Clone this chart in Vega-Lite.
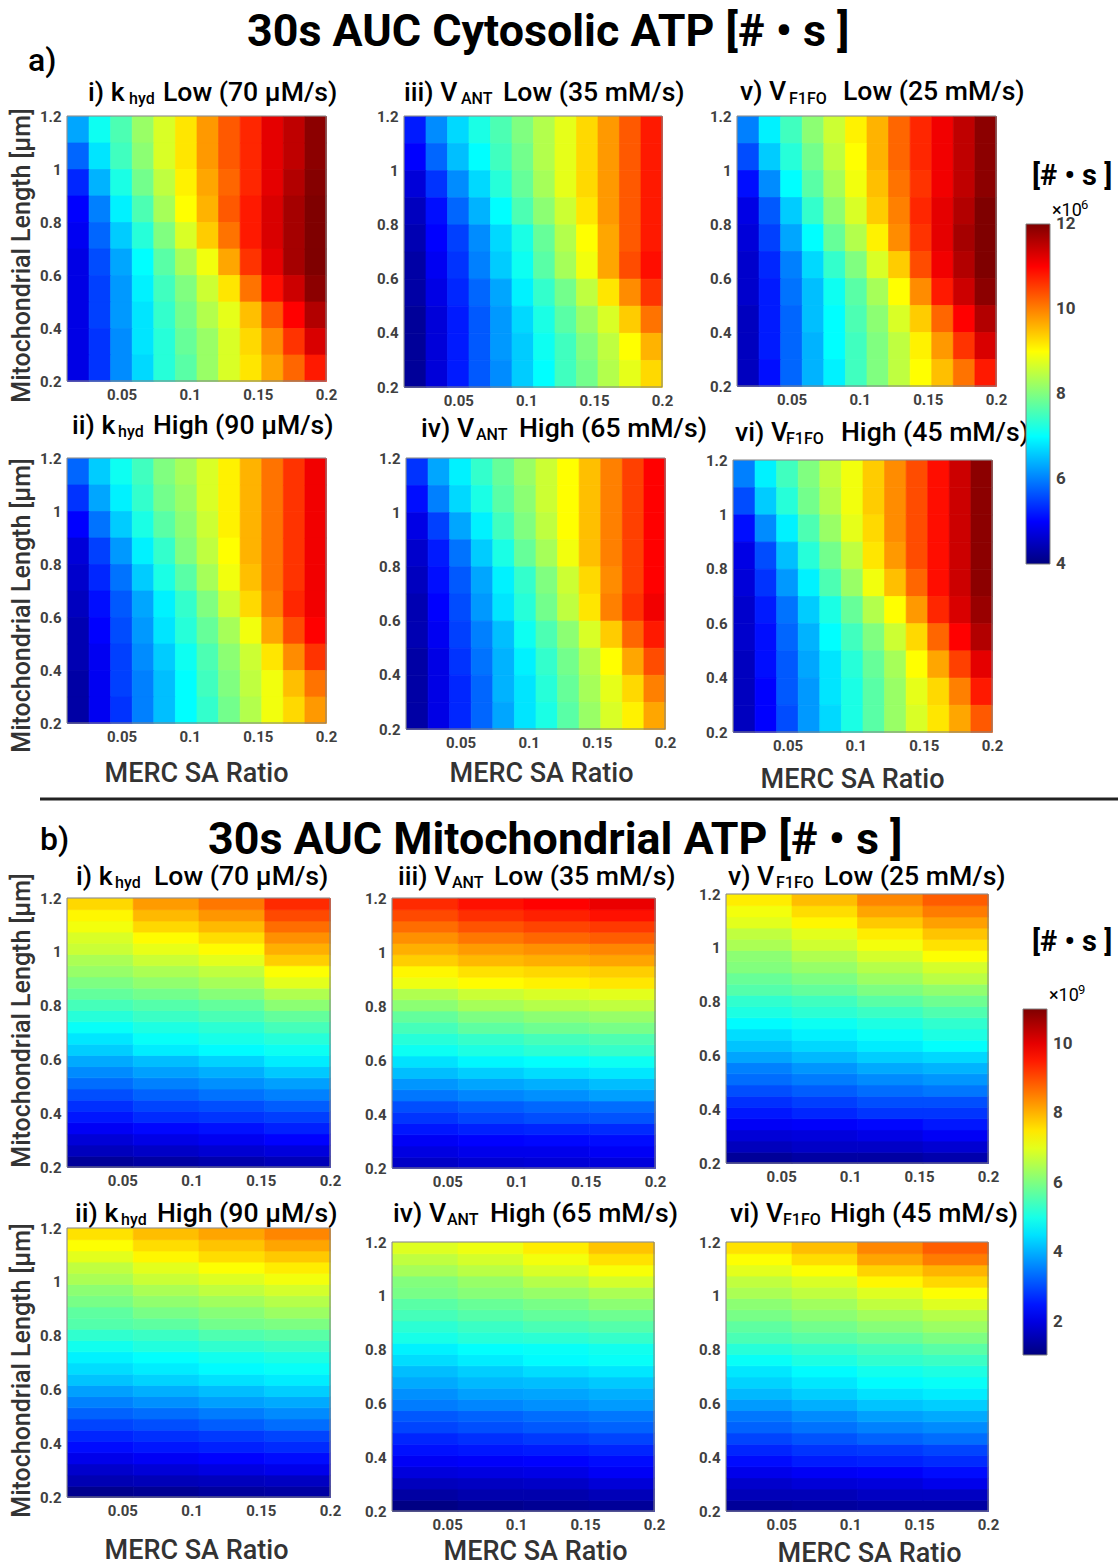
{"$schema":"https://vega.github.io/schema/vega-lite/v6.json","width":1118,"height":1568,"padding":0,"autosize":{"type":"fit","contains":"padding"},"background":"white",
"config":{"view":{"stroke":null},"axis":{"domain":false,"ticks":false,"grid":false,"labelFont":"Roboto","labelFontWeight":"bold","labelFontSize":15,"labelColor":"#404040","labelPadding":6,"titleFont":"Roboto","titleFontWeight":500,"titleFontSize":25,"titleColor":"#333333","format":"~g","labelOverlap":false,"labelFlush":false},
"style":{"t":{"font":"Roboto","fontWeight":500,"fontSize":26.6,"fill":"#333333","align":"left","baseline":"alphabetic"},"s":{"font":"Roboto","fontWeight":500,"fontSize":16,"fill":"#333333","align":"left","baseline":"alphabetic"},"h":{"font":"Roboto","fontWeight":"bold","fontSize":44.8,"fill":"#000000","align":"left","baseline":"alphabetic"},"u":{"font":"Roboto","fontWeight":"bold","fontSize":29,"fill":"#000000","align":"left","baseline":"alphabetic"},"l":{"font":"Roboto","fontWeight":500,"fontSize":32,"fill":"#222222","align":"left","baseline":"alphabetic"},"m":{"font":"Roboto","fontWeight":400,"fontSize":18,"fill":"#404040","align":"left","baseline":"alphabetic"},"n":{"font":"Roboto","fontWeight":400,"fontSize":13,"fill":"#404040","align":"left","baseline":"alphabetic"}}},
"datasets":{"one":[{}]},
"resolve":{"scale":{"x":"independent","y":"independent","color":"independent","stroke":"independent"}},
"layer":[
{"data":{"values":[
{"x":0.018,"y":1.15,"v":6.3},{"x":0.034,"y":1.15,"v":7.1},{"x":0.05,"y":1.15,"v":7.6},{"x":0.066,"y":1.15,"v":8.2},{"x":0.082,"y":1.15,"v":8.7},{"x":0.097,"y":1.15,"v":9.2},{"x":0.113,"y":1.15,"v":9.8},{"x":0.129,"y":1.15,"v":10.3},{"x":0.145,"y":1.15,"v":10.7},{"x":0.161,"y":1.15,"v":11.2},{"x":0.176,"y":1.15,"v":11.5},{"x":0.192,"y":1.15,"v":11.9},
{"x":0.018,"y":1.05,"v":5.8},{"x":0.034,"y":1.05,"v":6.8},{"x":0.05,"y":1.05,"v":7.5},{"x":0.066,"y":1.05,"v":8.1},{"x":0.082,"y":1.05,"v":8.7},{"x":0.097,"y":1.05,"v":9.2},{"x":0.113,"y":1.05,"v":9.8},{"x":0.129,"y":1.05,"v":10.3},{"x":0.145,"y":1.05,"v":10.7},{"x":0.161,"y":1.05,"v":11.2},{"x":0.176,"y":1.05,"v":11.5},{"x":0.192,"y":1.05,"v":11.9},
{"x":0.018,"y":0.95,"v":5.3},{"x":0.034,"y":0.95,"v":6.4},{"x":0.05,"y":0.95,"v":7.2},{"x":0.066,"y":0.95,"v":7.9},{"x":0.082,"y":0.95,"v":8.5},{"x":0.097,"y":0.95,"v":9.1},{"x":0.113,"y":0.95,"v":9.7},{"x":0.129,"y":0.95,"v":10.2},{"x":0.145,"y":0.95,"v":10.7},{"x":0.161,"y":0.95,"v":11.2},{"x":0.176,"y":0.95,"v":11.6},{"x":0.192,"y":0.95,"v":11.95},
{"x":0.018,"y":0.85,"v":5},{"x":0.034,"y":0.85,"v":6},{"x":0.05,"y":0.85,"v":6.9},{"x":0.066,"y":0.85,"v":7.6},{"x":0.082,"y":0.85,"v":8.3},{"x":0.097,"y":0.85,"v":9},{"x":0.113,"y":0.85,"v":9.6},{"x":0.129,"y":0.85,"v":10.3},{"x":0.145,"y":0.85,"v":10.8},{"x":0.161,"y":0.85,"v":11.3},{"x":0.176,"y":0.85,"v":11.7},{"x":0.192,"y":0.85,"v":12},
{"x":0.018,"y":0.75,"v":4.9},{"x":0.034,"y":0.75,"v":5.8},{"x":0.05,"y":0.75,"v":6.6},{"x":0.066,"y":0.75,"v":7.3},{"x":0.082,"y":0.75,"v":8},{"x":0.097,"y":0.75,"v":8.7},{"x":0.113,"y":0.75,"v":9.4},{"x":0.129,"y":0.75,"v":10.1},{"x":0.145,"y":0.75,"v":10.8},{"x":0.161,"y":0.75,"v":11.3},{"x":0.176,"y":0.75,"v":11.7},{"x":0.192,"y":0.75,"v":12},
{"x":0.018,"y":0.65,"v":4.8},{"x":0.034,"y":0.65,"v":5.6},{"x":0.05,"y":0.65,"v":6.3},{"x":0.066,"y":0.65,"v":7},{"x":0.082,"y":0.65,"v":7.7},{"x":0.097,"y":0.65,"v":8.3},{"x":0.113,"y":0.65,"v":8.9},{"x":0.129,"y":0.65,"v":9.7},{"x":0.145,"y":0.65,"v":10.6},{"x":0.161,"y":0.65,"v":11.2},{"x":0.176,"y":0.65,"v":11.7},{"x":0.192,"y":0.65,"v":12},
{"x":0.018,"y":0.55,"v":4.8},{"x":0.034,"y":0.55,"v":5.5},{"x":0.05,"y":0.55,"v":6.2},{"x":0.066,"y":0.55,"v":6.9},{"x":0.082,"y":0.55,"v":7.5},{"x":0.097,"y":0.55,"v":8},{"x":0.113,"y":0.55,"v":8.6},{"x":0.129,"y":0.55,"v":9.2},{"x":0.145,"y":0.55,"v":10.1},{"x":0.161,"y":0.55,"v":10.9},{"x":0.176,"y":0.55,"v":11.4},{"x":0.192,"y":0.55,"v":11.9},
{"x":0.018,"y":0.45,"v":4.8},{"x":0.034,"y":0.45,"v":5.5},{"x":0.05,"y":0.45,"v":6.2},{"x":0.066,"y":0.45,"v":6.8},{"x":0.082,"y":0.45,"v":7.4},{"x":0.097,"y":0.45,"v":7.9},{"x":0.113,"y":0.45,"v":8.4},{"x":0.129,"y":0.45,"v":8.8},{"x":0.145,"y":0.45,"v":9.5},{"x":0.161,"y":0.45,"v":10.3},{"x":0.176,"y":0.45,"v":11},{"x":0.192,"y":0.45,"v":11.6},
{"x":0.018,"y":0.35,"v":4.8},{"x":0.034,"y":0.35,"v":5.4},{"x":0.05,"y":0.35,"v":6.1},{"x":0.066,"y":0.35,"v":6.8},{"x":0.082,"y":0.35,"v":7.3},{"x":0.097,"y":0.35,"v":7.8},{"x":0.113,"y":0.35,"v":8.2},{"x":0.129,"y":0.35,"v":8.7},{"x":0.145,"y":0.35,"v":9.3},{"x":0.161,"y":0.35,"v":9.9},{"x":0.176,"y":0.35,"v":10.6},{"x":0.192,"y":0.35,"v":11.3},
{"x":0.018,"y":0.25,"v":4.8},{"x":0.034,"y":0.25,"v":5.4},{"x":0.05,"y":0.25,"v":6.1},{"x":0.066,"y":0.25,"v":6.7},{"x":0.082,"y":0.25,"v":7.3},{"x":0.097,"y":0.25,"v":7.7},{"x":0.113,"y":0.25,"v":8.2},{"x":0.129,"y":0.25,"v":8.7},{"x":0.145,"y":0.25,"v":9.2},{"x":0.161,"y":0.25,"v":9.7},{"x":0.176,"y":0.25,"v":10.2},{"x":0.192,"y":0.25,"v":10.8}
]},"layer":[{"mark":{"type":"rect","strokeWidth":0.7},"encoding":{"x":{"field":"x","type":"quantitative","bin":{"step":0.0158333,"extent":[0.01,0.2],"nice":false},"scale":{"domain":[0.01,0.2],"range":[67,326],"nice":false,"zero":false},"axis":{"orient":"bottom","values":[0.05,0.1,0.15,0.2],"offset":-1187,"title":null}},"y":{"field":"y","type":"quantitative","bin":{"step":0.1,"extent":[0.2,1.2],"nice":false},"scale":{"domain":[0.2,1.2],"range":[381,116],"nice":false,"zero":false},"axis":{"orient":"left","values":[0.2,0.4,0.6,0.8,1,1.2],"offset":-67,"title":"Mitochondrial Length [µm]","titleX":-38,"titleY":255,"titleBaseline":"alphabetic"}},"color":{"field":"v","type":"quantitative","scale":{"domain":[4,5,7,9,11,12],"range":["#00007f","#0000ff","#00ffff","#ffff00","#ff0000","#7f0000"],"interpolate":"rgb"},"legend":null},"stroke":{"field":"v","type":"quantitative","scale":{"domain":[4,5,7,9,11,12],"range":["#00007f","#0000ff","#00ffff","#ffff00","#ff0000","#7f0000"],"interpolate":"rgb"},"legend":null}}},{"data":{"name":"one"},"mark":{"type":"rect","fill":null,"stroke":"#808080","strokeWidth":1},"encoding":{"x":{"datum":0.01},"x2":{"datum":0.2},"y":{"datum":0.2},"y2":{"datum":1.2}}}]},
{"data":{"values":[
{"x":0.018,"y":1.15,"v":5.8},{"x":0.034,"y":1.15,"v":6.6},{"x":0.05,"y":1.15,"v":7.1},{"x":0.066,"y":1.15,"v":7.5},{"x":0.082,"y":1.15,"v":8},{"x":0.097,"y":1.15,"v":8.3},{"x":0.113,"y":1.15,"v":8.7},{"x":0.129,"y":1.15,"v":9.1},{"x":0.145,"y":1.15,"v":9.6},{"x":0.161,"y":1.15,"v":10.1},{"x":0.176,"y":1.15,"v":10.6},{"x":0.192,"y":1.15,"v":11.1},
{"x":0.018,"y":1.05,"v":5.4},{"x":0.034,"y":1.05,"v":6.3},{"x":0.05,"y":1.05,"v":6.9},{"x":0.066,"y":1.05,"v":7.4},{"x":0.082,"y":1.05,"v":7.9},{"x":0.097,"y":1.05,"v":8.2},{"x":0.113,"y":1.05,"v":8.7},{"x":0.129,"y":1.05,"v":9.1},{"x":0.145,"y":1.05,"v":9.6},{"x":0.161,"y":1.05,"v":10.1},{"x":0.176,"y":1.05,"v":10.6},{"x":0.192,"y":1.05,"v":11.1},
{"x":0.018,"y":0.95,"v":5},{"x":0.034,"y":0.95,"v":5.9},{"x":0.05,"y":0.95,"v":6.6},{"x":0.066,"y":0.95,"v":7.2},{"x":0.082,"y":0.95,"v":7.7},{"x":0.097,"y":0.95,"v":8.1},{"x":0.113,"y":0.95,"v":8.6},{"x":0.129,"y":0.95,"v":9.1},{"x":0.145,"y":0.95,"v":9.6},{"x":0.161,"y":0.95,"v":10.1},{"x":0.176,"y":0.95,"v":10.6},{"x":0.192,"y":0.95,"v":11.1},
{"x":0.018,"y":0.85,"v":4.7},{"x":0.034,"y":0.85,"v":5.5},{"x":0.05,"y":0.85,"v":6.2},{"x":0.066,"y":0.85,"v":6.9},{"x":0.082,"y":0.85,"v":7.4},{"x":0.097,"y":0.85,"v":8},{"x":0.113,"y":0.85,"v":8.5},{"x":0.129,"y":0.85,"v":9},{"x":0.145,"y":0.85,"v":9.6},{"x":0.161,"y":0.85,"v":10.1},{"x":0.176,"y":0.85,"v":10.6},{"x":0.192,"y":0.85,"v":11.1},
{"x":0.018,"y":0.75,"v":4.6},{"x":0.034,"y":0.75,"v":5.3},{"x":0.05,"y":0.75,"v":5.9},{"x":0.066,"y":0.75,"v":6.6},{"x":0.082,"y":0.75,"v":7.2},{"x":0.097,"y":0.75,"v":7.7},{"x":0.113,"y":0.75,"v":8.3},{"x":0.129,"y":0.75,"v":8.9},{"x":0.145,"y":0.75,"v":9.5},{"x":0.161,"y":0.75,"v":10.1},{"x":0.176,"y":0.75,"v":10.6},{"x":0.192,"y":0.75,"v":11.1},
{"x":0.018,"y":0.65,"v":4.5},{"x":0.034,"y":0.65,"v":5.1},{"x":0.05,"y":0.65,"v":5.7},{"x":0.066,"y":0.65,"v":6.3},{"x":0.082,"y":0.65,"v":6.9},{"x":0.097,"y":0.65,"v":7.4},{"x":0.113,"y":0.65,"v":8},{"x":0.129,"y":0.65,"v":8.6},{"x":0.145,"y":0.65,"v":9.3},{"x":0.161,"y":0.65,"v":10},{"x":0.176,"y":0.65,"v":10.7},{"x":0.192,"y":0.65,"v":11.1},
{"x":0.018,"y":0.55,"v":4.4},{"x":0.034,"y":0.55,"v":5},{"x":0.05,"y":0.55,"v":5.6},{"x":0.066,"y":0.55,"v":6.2},{"x":0.082,"y":0.55,"v":6.8},{"x":0.097,"y":0.55,"v":7.3},{"x":0.113,"y":0.55,"v":7.8},{"x":0.129,"y":0.55,"v":8.3},{"x":0.145,"y":0.55,"v":8.9},{"x":0.161,"y":0.55,"v":9.7},{"x":0.176,"y":0.55,"v":10.4},{"x":0.192,"y":0.55,"v":11},
{"x":0.018,"y":0.45,"v":4.4},{"x":0.034,"y":0.45,"v":4.9},{"x":0.05,"y":0.45,"v":5.5},{"x":0.066,"y":0.45,"v":6.1},{"x":0.082,"y":0.45,"v":6.6},{"x":0.097,"y":0.45,"v":7.1},{"x":0.113,"y":0.45,"v":7.6},{"x":0.129,"y":0.45,"v":8.1},{"x":0.145,"y":0.45,"v":8.6},{"x":0.161,"y":0.45,"v":9.2},{"x":0.176,"y":0.45,"v":9.9},{"x":0.192,"y":0.45,"v":10.6},
{"x":0.018,"y":0.35,"v":4.3},{"x":0.034,"y":0.35,"v":4.9},{"x":0.05,"y":0.35,"v":5.5},{"x":0.066,"y":0.35,"v":6},{"x":0.082,"y":0.35,"v":6.5},{"x":0.097,"y":0.35,"v":7},{"x":0.113,"y":0.35,"v":7.5},{"x":0.129,"y":0.35,"v":8},{"x":0.145,"y":0.35,"v":8.5},{"x":0.161,"y":0.35,"v":8.9},{"x":0.176,"y":0.35,"v":9.5},{"x":0.192,"y":0.35,"v":10.1},
{"x":0.018,"y":0.25,"v":4.3},{"x":0.034,"y":0.25,"v":4.9},{"x":0.05,"y":0.25,"v":5.4},{"x":0.066,"y":0.25,"v":6},{"x":0.082,"y":0.25,"v":6.5},{"x":0.097,"y":0.25,"v":7},{"x":0.113,"y":0.25,"v":7.4},{"x":0.129,"y":0.25,"v":7.9},{"x":0.145,"y":0.25,"v":8.4},{"x":0.161,"y":0.25,"v":8.9},{"x":0.176,"y":0.25,"v":9.3},{"x":0.192,"y":0.25,"v":9.8}
]},"layer":[{"mark":{"type":"rect","strokeWidth":0.7},"encoding":{"x":{"field":"x","type":"quantitative","bin":{"step":0.0158333,"extent":[0.01,0.2],"nice":false},"scale":{"domain":[0.01,0.2],"range":[67,326],"nice":false,"zero":false},"axis":{"orient":"bottom","values":[0.05,0.1,0.15,0.2],"offset":-845,"title":"MERC SA Ratio","titleFontSize":27,"titleX":196,"titleY":58,"titleAlign":"center","titleBaseline":"alphabetic"}},"y":{"field":"y","type":"quantitative","bin":{"step":0.1,"extent":[0.2,1.2],"nice":false},"scale":{"domain":[0.2,1.2],"range":[723,458],"nice":false,"zero":false},"axis":{"orient":"left","values":[0.2,0.4,0.6,0.8,1,1.2],"offset":-67,"title":"Mitochondrial Length [µm]","titleX":-38,"titleY":605,"titleBaseline":"alphabetic"}},"color":{"field":"v","type":"quantitative","scale":{"domain":[4,5,7,9,11,12],"range":["#00007f","#0000ff","#00ffff","#ffff00","#ff0000","#7f0000"],"interpolate":"rgb"},"legend":null},"stroke":{"field":"v","type":"quantitative","scale":{"domain":[4,5,7,9,11,12],"range":["#00007f","#0000ff","#00ffff","#ffff00","#ff0000","#7f0000"],"interpolate":"rgb"},"legend":null}}},{"data":{"name":"one"},"mark":{"type":"rect","fill":null,"stroke":"#808080","strokeWidth":1},"encoding":{"x":{"datum":0.01},"x2":{"datum":0.2},"y":{"datum":0.2},"y2":{"datum":1.2}}}]},
{"data":{"values":[
{"x":0.018,"y":1.15,"v":5.2},{"x":0.034,"y":1.15,"v":6.1},{"x":0.05,"y":1.15,"v":6.7},{"x":0.066,"y":1.15,"v":7.2},{"x":0.082,"y":1.15,"v":7.6},{"x":0.097,"y":1.15,"v":8},{"x":0.113,"y":1.15,"v":8.4},{"x":0.129,"y":1.15,"v":8.8},{"x":0.145,"y":1.15,"v":9.3},{"x":0.161,"y":1.15,"v":9.8},{"x":0.176,"y":1.15,"v":10.3},{"x":0.192,"y":1.15,"v":10.8},
{"x":0.018,"y":1.05,"v":5},{"x":0.034,"y":1.05,"v":5.8},{"x":0.05,"y":1.05,"v":6.5},{"x":0.066,"y":1.05,"v":7},{"x":0.082,"y":1.05,"v":7.5},{"x":0.097,"y":1.05,"v":7.9},{"x":0.113,"y":1.05,"v":8.4},{"x":0.129,"y":1.05,"v":8.8},{"x":0.145,"y":1.05,"v":9.3},{"x":0.161,"y":1.05,"v":9.8},{"x":0.176,"y":1.05,"v":10.3},{"x":0.192,"y":1.05,"v":10.8},
{"x":0.018,"y":0.95,"v":4.7},{"x":0.034,"y":0.95,"v":5.4},{"x":0.05,"y":0.95,"v":6.1},{"x":0.066,"y":0.95,"v":6.7},{"x":0.082,"y":0.95,"v":7.3},{"x":0.097,"y":0.95,"v":7.8},{"x":0.113,"y":0.95,"v":8.3},{"x":0.129,"y":0.95,"v":8.8},{"x":0.145,"y":0.95,"v":9.3},{"x":0.161,"y":0.95,"v":9.8},{"x":0.176,"y":0.95,"v":10.3},{"x":0.192,"y":0.95,"v":10.8},
{"x":0.018,"y":0.85,"v":4.5},{"x":0.034,"y":0.85,"v":5.1},{"x":0.05,"y":0.85,"v":5.8},{"x":0.066,"y":0.85,"v":6.4},{"x":0.082,"y":0.85,"v":7},{"x":0.097,"y":0.85,"v":7.6},{"x":0.113,"y":0.85,"v":8.1},{"x":0.129,"y":0.85,"v":8.6},{"x":0.145,"y":0.85,"v":9.2},{"x":0.161,"y":0.85,"v":9.8},{"x":0.176,"y":0.85,"v":10.3},{"x":0.192,"y":0.85,"v":10.8},
{"x":0.018,"y":0.75,"v":4.4},{"x":0.034,"y":0.75,"v":5},{"x":0.05,"y":0.75,"v":5.5},{"x":0.066,"y":0.75,"v":6.1},{"x":0.082,"y":0.75,"v":6.7},{"x":0.097,"y":0.75,"v":7.2},{"x":0.113,"y":0.75,"v":7.8},{"x":0.129,"y":0.75,"v":8.4},{"x":0.145,"y":0.75,"v":9},{"x":0.161,"y":0.75,"v":9.7},{"x":0.176,"y":0.75,"v":10.3},{"x":0.192,"y":0.75,"v":10.8},
{"x":0.018,"y":0.65,"v":4.3},{"x":0.034,"y":0.65,"v":4.9},{"x":0.05,"y":0.65,"v":5.4},{"x":0.066,"y":0.65,"v":6},{"x":0.082,"y":0.65,"v":6.6},{"x":0.097,"y":0.65,"v":7.1},{"x":0.113,"y":0.65,"v":7.7},{"x":0.129,"y":0.65,"v":8.3},{"x":0.145,"y":0.65,"v":8.9},{"x":0.161,"y":0.65,"v":9.7},{"x":0.176,"y":0.65,"v":10.4},{"x":0.192,"y":0.65,"v":10.9},
{"x":0.018,"y":0.55,"v":4.3},{"x":0.034,"y":0.55,"v":4.8},{"x":0.05,"y":0.55,"v":5.3},{"x":0.066,"y":0.55,"v":5.8},{"x":0.082,"y":0.55,"v":6.3},{"x":0.097,"y":0.55,"v":6.9},{"x":0.113,"y":0.55,"v":7.4},{"x":0.129,"y":0.55,"v":7.9},{"x":0.145,"y":0.55,"v":8.5},{"x":0.161,"y":0.55,"v":9.2},{"x":0.176,"y":0.55,"v":9.9},{"x":0.192,"y":0.55,"v":10.6},
{"x":0.018,"y":0.45,"v":4.2},{"x":0.034,"y":0.45,"v":4.7},{"x":0.05,"y":0.45,"v":5.2},{"x":0.066,"y":0.45,"v":5.7},{"x":0.082,"y":0.45,"v":6.2},{"x":0.097,"y":0.45,"v":6.7},{"x":0.113,"y":0.45,"v":7.2},{"x":0.129,"y":0.45,"v":7.7},{"x":0.145,"y":0.45,"v":8.2},{"x":0.161,"y":0.45,"v":8.7},{"x":0.176,"y":0.45,"v":9.4},{"x":0.192,"y":0.45,"v":10.1},
{"x":0.018,"y":0.35,"v":4.2},{"x":0.034,"y":0.35,"v":4.7},{"x":0.05,"y":0.35,"v":5.2},{"x":0.066,"y":0.35,"v":5.7},{"x":0.082,"y":0.35,"v":6.2},{"x":0.097,"y":0.35,"v":6.6},{"x":0.113,"y":0.35,"v":7.1},{"x":0.129,"y":0.35,"v":7.5},{"x":0.145,"y":0.35,"v":8},{"x":0.161,"y":0.35,"v":8.5},{"x":0.176,"y":0.35,"v":9},{"x":0.192,"y":0.35,"v":9.6},
{"x":0.018,"y":0.25,"v":4.2},{"x":0.034,"y":0.25,"v":4.7},{"x":0.05,"y":0.25,"v":5.2},{"x":0.066,"y":0.25,"v":5.7},{"x":0.082,"y":0.25,"v":6.1},{"x":0.097,"y":0.25,"v":6.6},{"x":0.113,"y":0.25,"v":7},{"x":0.129,"y":0.25,"v":7.5},{"x":0.145,"y":0.25,"v":7.9},{"x":0.161,"y":0.25,"v":8.4},{"x":0.176,"y":0.25,"v":8.8},{"x":0.192,"y":0.25,"v":9.3}
]},"layer":[{"mark":{"type":"rect","strokeWidth":0.7},"encoding":{"x":{"field":"x","type":"quantitative","bin":{"step":0.0158333,"extent":[0.01,0.2],"nice":false},"scale":{"domain":[0.01,0.2],"range":[404,662],"nice":false,"zero":false},"axis":{"orient":"bottom","values":[0.05,0.1,0.15,0.2],"offset":-1181,"title":null}},"y":{"field":"y","type":"quantitative","bin":{"step":0.1,"extent":[0.2,1.2],"nice":false},"scale":{"domain":[0.2,1.2],"range":[387,116],"nice":false,"zero":false},"axis":{"orient":"left","values":[0.2,0.4,0.6,0.8,1,1.2],"offset":-404,"title":null}},"color":{"field":"v","type":"quantitative","scale":{"domain":[4,5,7,9,11,12],"range":["#00007f","#0000ff","#00ffff","#ffff00","#ff0000","#7f0000"],"interpolate":"rgb"},"legend":null},"stroke":{"field":"v","type":"quantitative","scale":{"domain":[4,5,7,9,11,12],"range":["#00007f","#0000ff","#00ffff","#ffff00","#ff0000","#7f0000"],"interpolate":"rgb"},"legend":null}}},{"data":{"name":"one"},"mark":{"type":"rect","fill":null,"stroke":"#808080","strokeWidth":1},"encoding":{"x":{"datum":0.01},"x2":{"datum":0.2},"y":{"datum":0.2},"y2":{"datum":1.2}}}]},
{"data":{"values":[
{"x":0.018,"y":1.15,"v":5.4},{"x":0.034,"y":1.15,"v":6.3},{"x":0.05,"y":1.15,"v":6.9},{"x":0.066,"y":1.15,"v":7.4},{"x":0.082,"y":1.15,"v":7.8},{"x":0.097,"y":1.15,"v":8.2},{"x":0.113,"y":1.15,"v":8.6},{"x":0.129,"y":1.15,"v":9},{"x":0.145,"y":1.15,"v":9.5},{"x":0.161,"y":1.15,"v":10},{"x":0.176,"y":1.15,"v":10.5},{"x":0.192,"y":1.15,"v":11},
{"x":0.018,"y":1.05,"v":5.1},{"x":0.034,"y":1.05,"v":6},{"x":0.05,"y":1.05,"v":6.7},{"x":0.066,"y":1.05,"v":7.2},{"x":0.082,"y":1.05,"v":7.7},{"x":0.097,"y":1.05,"v":8.1},{"x":0.113,"y":1.05,"v":8.6},{"x":0.129,"y":1.05,"v":9},{"x":0.145,"y":1.05,"v":9.5},{"x":0.161,"y":1.05,"v":10},{"x":0.176,"y":1.05,"v":10.5},{"x":0.192,"y":1.05,"v":11},
{"x":0.018,"y":0.95,"v":4.8},{"x":0.034,"y":0.95,"v":5.5},{"x":0.05,"y":0.95,"v":6.3},{"x":0.066,"y":0.95,"v":6.9},{"x":0.082,"y":0.95,"v":7.5},{"x":0.097,"y":0.95,"v":8},{"x":0.113,"y":0.95,"v":8.5},{"x":0.129,"y":0.95,"v":9},{"x":0.145,"y":0.95,"v":9.5},{"x":0.161,"y":0.95,"v":10},{"x":0.176,"y":0.95,"v":10.5},{"x":0.192,"y":0.95,"v":11},
{"x":0.018,"y":0.85,"v":4.6},{"x":0.034,"y":0.85,"v":5.2},{"x":0.05,"y":0.85,"v":5.9},{"x":0.066,"y":0.85,"v":6.6},{"x":0.082,"y":0.85,"v":7.2},{"x":0.097,"y":0.85,"v":7.8},{"x":0.113,"y":0.85,"v":8.3},{"x":0.129,"y":0.85,"v":8.9},{"x":0.145,"y":0.85,"v":9.5},{"x":0.161,"y":0.85,"v":10},{"x":0.176,"y":0.85,"v":10.5},{"x":0.192,"y":0.85,"v":11},
{"x":0.018,"y":0.75,"v":4.5},{"x":0.034,"y":0.75,"v":5.1},{"x":0.05,"y":0.75,"v":5.7},{"x":0.066,"y":0.75,"v":6.3},{"x":0.082,"y":0.75,"v":6.9},{"x":0.097,"y":0.75,"v":7.4},{"x":0.113,"y":0.75,"v":8},{"x":0.129,"y":0.75,"v":8.6},{"x":0.145,"y":0.75,"v":9.3},{"x":0.161,"y":0.75,"v":9.9},{"x":0.176,"y":0.75,"v":10.5},{"x":0.192,"y":0.75,"v":11},
{"x":0.018,"y":0.65,"v":4.4},{"x":0.034,"y":0.65,"v":5},{"x":0.05,"y":0.65,"v":5.6},{"x":0.066,"y":0.65,"v":6.2},{"x":0.082,"y":0.65,"v":6.8},{"x":0.097,"y":0.65,"v":7.3},{"x":0.113,"y":0.65,"v":7.9},{"x":0.129,"y":0.65,"v":8.5},{"x":0.145,"y":0.65,"v":9.2},{"x":0.161,"y":0.65,"v":10},{"x":0.176,"y":0.65,"v":10.6},{"x":0.192,"y":0.65,"v":11.1},
{"x":0.018,"y":0.55,"v":4.4},{"x":0.034,"y":0.55,"v":4.9},{"x":0.05,"y":0.55,"v":5.5},{"x":0.066,"y":0.55,"v":6},{"x":0.082,"y":0.55,"v":6.5},{"x":0.097,"y":0.55,"v":7.1},{"x":0.113,"y":0.55,"v":7.6},{"x":0.129,"y":0.55,"v":8.1},{"x":0.145,"y":0.55,"v":8.7},{"x":0.161,"y":0.55,"v":9.4},{"x":0.176,"y":0.55,"v":10.2},{"x":0.192,"y":0.55,"v":10.8},
{"x":0.018,"y":0.45,"v":4.3},{"x":0.034,"y":0.45,"v":4.8},{"x":0.05,"y":0.45,"v":5.4},{"x":0.066,"y":0.45,"v":5.9},{"x":0.082,"y":0.45,"v":6.4},{"x":0.097,"y":0.45,"v":6.9},{"x":0.113,"y":0.45,"v":7.4},{"x":0.129,"y":0.45,"v":7.9},{"x":0.145,"y":0.45,"v":8.4},{"x":0.161,"y":0.45,"v":9},{"x":0.176,"y":0.45,"v":9.7},{"x":0.192,"y":0.45,"v":10.4},
{"x":0.018,"y":0.35,"v":4.3},{"x":0.034,"y":0.35,"v":4.8},{"x":0.05,"y":0.35,"v":5.3},{"x":0.066,"y":0.35,"v":5.8},{"x":0.082,"y":0.35,"v":6.4},{"x":0.097,"y":0.35,"v":6.8},{"x":0.113,"y":0.35,"v":7.3},{"x":0.129,"y":0.35,"v":7.8},{"x":0.145,"y":0.35,"v":8.3},{"x":0.161,"y":0.35,"v":8.8},{"x":0.176,"y":0.35,"v":9.3},{"x":0.192,"y":0.35,"v":10},
{"x":0.018,"y":0.25,"v":4.3},{"x":0.034,"y":0.25,"v":4.8},{"x":0.05,"y":0.25,"v":5.3},{"x":0.066,"y":0.25,"v":5.8},{"x":0.082,"y":0.25,"v":6.3},{"x":0.097,"y":0.25,"v":6.8},{"x":0.113,"y":0.25,"v":7.2},{"x":0.129,"y":0.25,"v":7.7},{"x":0.145,"y":0.25,"v":8.2},{"x":0.161,"y":0.25,"v":8.7},{"x":0.176,"y":0.25,"v":9.1},{"x":0.192,"y":0.25,"v":9.7}
]},"layer":[{"mark":{"type":"rect","strokeWidth":0.7},"encoding":{"x":{"field":"x","type":"quantitative","bin":{"step":0.0158333,"extent":[0.01,0.2],"nice":false},"scale":{"domain":[0.01,0.2],"range":[406,665],"nice":false,"zero":false},"axis":{"orient":"bottom","values":[0.05,0.1,0.15,0.2],"offset":-839,"title":"MERC SA Ratio","titleFontSize":27,"titleX":541,"titleY":52,"titleAlign":"center","titleBaseline":"alphabetic"}},"y":{"field":"y","type":"quantitative","bin":{"step":0.1,"extent":[0.2,1.2],"nice":false},"scale":{"domain":[0.2,1.2],"range":[729,458],"nice":false,"zero":false},"axis":{"orient":"left","values":[0.2,0.4,0.6,0.8,1,1.2],"offset":-406,"title":null}},"color":{"field":"v","type":"quantitative","scale":{"domain":[4,5,7,9,11,12],"range":["#00007f","#0000ff","#00ffff","#ffff00","#ff0000","#7f0000"],"interpolate":"rgb"},"legend":null},"stroke":{"field":"v","type":"quantitative","scale":{"domain":[4,5,7,9,11,12],"range":["#00007f","#0000ff","#00ffff","#ffff00","#ff0000","#7f0000"],"interpolate":"rgb"},"legend":null}}},{"data":{"name":"one"},"mark":{"type":"rect","fill":null,"stroke":"#808080","strokeWidth":1},"encoding":{"x":{"datum":0.01},"x2":{"datum":0.2},"y":{"datum":0.2},"y2":{"datum":1.2}}}]},
{"data":{"values":[
{"x":0.018,"y":1.15,"v":6},{"x":0.034,"y":1.15,"v":6.9},{"x":0.05,"y":1.15,"v":7.5},{"x":0.066,"y":1.15,"v":8.1},{"x":0.082,"y":1.15,"v":8.6},{"x":0.097,"y":1.15,"v":9.1},{"x":0.113,"y":1.15,"v":9.6},{"x":0.129,"y":1.15,"v":10.2},{"x":0.145,"y":1.15,"v":10.7},{"x":0.161,"y":1.15,"v":11.1},{"x":0.176,"y":1.15,"v":11.5},{"x":0.192,"y":1.15,"v":11.9},
{"x":0.018,"y":1.05,"v":5.6},{"x":0.034,"y":1.05,"v":6.6},{"x":0.05,"y":1.05,"v":7.3},{"x":0.066,"y":1.05,"v":7.9},{"x":0.082,"y":1.05,"v":8.5},{"x":0.097,"y":1.05,"v":9},{"x":0.113,"y":1.05,"v":9.6},{"x":0.129,"y":1.05,"v":10.2},{"x":0.145,"y":1.05,"v":10.7},{"x":0.161,"y":1.05,"v":11.1},{"x":0.176,"y":1.05,"v":11.5},{"x":0.192,"y":1.05,"v":11.9},
{"x":0.018,"y":0.95,"v":5.1},{"x":0.034,"y":0.95,"v":6.1},{"x":0.05,"y":0.95,"v":7},{"x":0.066,"y":0.95,"v":7.7},{"x":0.082,"y":0.95,"v":8.3},{"x":0.097,"y":0.95,"v":8.9},{"x":0.113,"y":0.95,"v":9.5},{"x":0.129,"y":0.95,"v":10.1},{"x":0.145,"y":0.95,"v":10.6},{"x":0.161,"y":0.95,"v":11.1},{"x":0.176,"y":0.95,"v":11.5},{"x":0.192,"y":0.95,"v":11.9},
{"x":0.018,"y":0.85,"v":4.8},{"x":0.034,"y":0.85,"v":5.7},{"x":0.05,"y":0.85,"v":6.6},{"x":0.066,"y":0.85,"v":7.4},{"x":0.082,"y":0.85,"v":8.1},{"x":0.097,"y":0.85,"v":8.7},{"x":0.113,"y":0.85,"v":9.4},{"x":0.129,"y":0.85,"v":10},{"x":0.145,"y":0.85,"v":10.7},{"x":0.161,"y":0.85,"v":11.2},{"x":0.176,"y":0.85,"v":11.6},{"x":0.192,"y":0.85,"v":12},
{"x":0.018,"y":0.75,"v":4.7},{"x":0.034,"y":0.75,"v":5.5},{"x":0.05,"y":0.75,"v":6.3},{"x":0.066,"y":0.75,"v":7},{"x":0.082,"y":0.75,"v":7.8},{"x":0.097,"y":0.75,"v":8.4},{"x":0.113,"y":0.75,"v":9.1},{"x":0.129,"y":0.75,"v":9.9},{"x":0.145,"y":0.75,"v":10.6},{"x":0.161,"y":0.75,"v":11.2},{"x":0.176,"y":0.75,"v":11.7},{"x":0.192,"y":0.75,"v":12},
{"x":0.018,"y":0.65,"v":4.6},{"x":0.034,"y":0.65,"v":5.3},{"x":0.05,"y":0.65,"v":6},{"x":0.066,"y":0.65,"v":6.7},{"x":0.082,"y":0.65,"v":7.4},{"x":0.097,"y":0.65,"v":8},{"x":0.113,"y":0.65,"v":8.7},{"x":0.129,"y":0.65,"v":9.4},{"x":0.145,"y":0.65,"v":10.4},{"x":0.161,"y":0.65,"v":11.1},{"x":0.176,"y":0.65,"v":11.6},{"x":0.192,"y":0.65,"v":12},
{"x":0.018,"y":0.55,"v":4.6},{"x":0.034,"y":0.55,"v":5.2},{"x":0.05,"y":0.55,"v":5.9},{"x":0.066,"y":0.55,"v":6.5},{"x":0.082,"y":0.55,"v":7.1},{"x":0.097,"y":0.55,"v":7.7},{"x":0.113,"y":0.55,"v":8.3},{"x":0.129,"y":0.55,"v":9},{"x":0.145,"y":0.55,"v":9.9},{"x":0.161,"y":0.55,"v":10.8},{"x":0.176,"y":0.55,"v":11.4},{"x":0.192,"y":0.55,"v":11.9},
{"x":0.018,"y":0.45,"v":4.5},{"x":0.034,"y":0.45,"v":5.2},{"x":0.05,"y":0.45,"v":5.8},{"x":0.066,"y":0.45,"v":6.5},{"x":0.082,"y":0.45,"v":7},{"x":0.097,"y":0.45,"v":7.6},{"x":0.113,"y":0.45,"v":8.1},{"x":0.129,"y":0.45,"v":8.7},{"x":0.145,"y":0.45,"v":9.4},{"x":0.161,"y":0.45,"v":10.2},{"x":0.176,"y":0.45,"v":11},{"x":0.192,"y":0.45,"v":11.6},
{"x":0.018,"y":0.35,"v":4.5},{"x":0.034,"y":0.35,"v":5.2},{"x":0.05,"y":0.35,"v":5.8},{"x":0.066,"y":0.35,"v":6.4},{"x":0.082,"y":0.35,"v":7},{"x":0.097,"y":0.35,"v":7.5},{"x":0.113,"y":0.35,"v":8},{"x":0.129,"y":0.35,"v":8.5},{"x":0.145,"y":0.35,"v":9.1},{"x":0.161,"y":0.35,"v":9.8},{"x":0.176,"y":0.35,"v":10.6},{"x":0.192,"y":0.35,"v":11.3},
{"x":0.018,"y":0.25,"v":4.5},{"x":0.034,"y":0.25,"v":5.1},{"x":0.05,"y":0.25,"v":5.8},{"x":0.066,"y":0.25,"v":6.4},{"x":0.082,"y":0.25,"v":6.9},{"x":0.097,"y":0.25,"v":7.5},{"x":0.113,"y":0.25,"v":8},{"x":0.129,"y":0.25,"v":8.5},{"x":0.145,"y":0.25,"v":9},{"x":0.161,"y":0.25,"v":9.5},{"x":0.176,"y":0.25,"v":10.1},{"x":0.192,"y":0.25,"v":10.8}
]},"layer":[{"mark":{"type":"rect","strokeWidth":0.7},"encoding":{"x":{"field":"x","type":"quantitative","bin":{"step":0.0158333,"extent":[0.01,0.2],"nice":false},"scale":{"domain":[0.01,0.2],"range":[737,996],"nice":false,"zero":false},"axis":{"orient":"bottom","values":[0.05,0.1,0.15,0.2],"offset":-1182,"title":null}},"y":{"field":"y","type":"quantitative","bin":{"step":0.1,"extent":[0.2,1.2],"nice":false},"scale":{"domain":[0.2,1.2],"range":[386,116],"nice":false,"zero":false},"axis":{"orient":"left","values":[0.2,0.4,0.6,0.8,1,1.2],"offset":-737,"title":null}},"color":{"field":"v","type":"quantitative","scale":{"domain":[4,5,7,9,11,12],"range":["#00007f","#0000ff","#00ffff","#ffff00","#ff0000","#7f0000"],"interpolate":"rgb"},"legend":null},"stroke":{"field":"v","type":"quantitative","scale":{"domain":[4,5,7,9,11,12],"range":["#00007f","#0000ff","#00ffff","#ffff00","#ff0000","#7f0000"],"interpolate":"rgb"},"legend":null}}},{"data":{"name":"one"},"mark":{"type":"rect","fill":null,"stroke":"#808080","strokeWidth":1},"encoding":{"x":{"datum":0.01},"x2":{"datum":0.2},"y":{"datum":0.2},"y2":{"datum":1.2}}}]},
{"data":{"values":[
{"x":0.018,"y":1.15,"v":6},{"x":0.034,"y":1.15,"v":6.9},{"x":0.05,"y":1.15,"v":7.5},{"x":0.066,"y":1.15,"v":8},{"x":0.082,"y":1.15,"v":8.5},{"x":0.097,"y":1.15,"v":8.9},{"x":0.113,"y":1.15,"v":9.4},{"x":0.129,"y":1.15,"v":9.9},{"x":0.145,"y":1.15,"v":10.4},{"x":0.161,"y":1.15,"v":10.9},{"x":0.176,"y":1.15,"v":11.4},{"x":0.192,"y":1.15,"v":11.9},
{"x":0.018,"y":1.05,"v":5.6},{"x":0.034,"y":1.05,"v":6.6},{"x":0.05,"y":1.05,"v":7.3},{"x":0.066,"y":1.05,"v":7.9},{"x":0.082,"y":1.05,"v":8.4},{"x":0.097,"y":1.05,"v":8.9},{"x":0.113,"y":1.05,"v":9.4},{"x":0.129,"y":1.05,"v":9.9},{"x":0.145,"y":1.05,"v":10.4},{"x":0.161,"y":1.05,"v":10.9},{"x":0.176,"y":1.05,"v":11.4},{"x":0.192,"y":1.05,"v":11.9},
{"x":0.018,"y":0.95,"v":5.1},{"x":0.034,"y":0.95,"v":6.1},{"x":0.05,"y":0.95,"v":6.9},{"x":0.066,"y":0.95,"v":7.6},{"x":0.082,"y":0.95,"v":8.2},{"x":0.097,"y":0.95,"v":8.8},{"x":0.113,"y":0.95,"v":9.3},{"x":0.129,"y":0.95,"v":9.9},{"x":0.145,"y":0.95,"v":10.4},{"x":0.161,"y":0.95,"v":10.9},{"x":0.176,"y":0.95,"v":11.4},{"x":0.192,"y":0.95,"v":11.9},
{"x":0.018,"y":0.85,"v":4.8},{"x":0.034,"y":0.85,"v":5.6},{"x":0.05,"y":0.85,"v":6.5},{"x":0.066,"y":0.85,"v":7.3},{"x":0.082,"y":0.85,"v":7.9},{"x":0.097,"y":0.85,"v":8.5},{"x":0.113,"y":0.85,"v":9.2},{"x":0.129,"y":0.85,"v":9.8},{"x":0.145,"y":0.85,"v":10.4},{"x":0.161,"y":0.85,"v":10.9},{"x":0.176,"y":0.85,"v":11.4},{"x":0.192,"y":0.85,"v":11.9},
{"x":0.018,"y":0.75,"v":4.7},{"x":0.034,"y":0.75,"v":5.4},{"x":0.05,"y":0.75,"v":6.2},{"x":0.066,"y":0.75,"v":6.9},{"x":0.082,"y":0.75,"v":7.6},{"x":0.097,"y":0.75,"v":8.2},{"x":0.113,"y":0.75,"v":8.9},{"x":0.129,"y":0.75,"v":9.5},{"x":0.145,"y":0.75,"v":10.2},{"x":0.161,"y":0.75,"v":10.9},{"x":0.176,"y":0.75,"v":11.4},{"x":0.192,"y":0.75,"v":11.9},
{"x":0.018,"y":0.65,"v":4.6},{"x":0.034,"y":0.65,"v":5.2},{"x":0.05,"y":0.65,"v":5.9},{"x":0.066,"y":0.65,"v":6.6},{"x":0.082,"y":0.65,"v":7.2},{"x":0.097,"y":0.65,"v":7.8},{"x":0.113,"y":0.65,"v":8.4},{"x":0.129,"y":0.65,"v":9},{"x":0.145,"y":0.65,"v":9.8},{"x":0.161,"y":0.65,"v":10.7},{"x":0.176,"y":0.65,"v":11.3},{"x":0.192,"y":0.65,"v":11.8},
{"x":0.018,"y":0.55,"v":4.6},{"x":0.034,"y":0.55,"v":5.1},{"x":0.05,"y":0.55,"v":5.8},{"x":0.066,"y":0.55,"v":6.4},{"x":0.082,"y":0.55,"v":7},{"x":0.097,"y":0.55,"v":7.5},{"x":0.113,"y":0.55,"v":8},{"x":0.129,"y":0.55,"v":8.6},{"x":0.145,"y":0.55,"v":9.3},{"x":0.161,"y":0.55,"v":10.2},{"x":0.176,"y":0.55,"v":11},{"x":0.192,"y":0.55,"v":11.6},
{"x":0.018,"y":0.45,"v":4.5},{"x":0.034,"y":0.45,"v":5.1},{"x":0.05,"y":0.45,"v":5.7},{"x":0.066,"y":0.45,"v":6.3},{"x":0.082,"y":0.45,"v":6.8},{"x":0.097,"y":0.45,"v":7.3},{"x":0.113,"y":0.45,"v":7.8},{"x":0.129,"y":0.45,"v":8.3},{"x":0.145,"y":0.45,"v":9},{"x":0.161,"y":0.45,"v":9.7},{"x":0.176,"y":0.45,"v":10.5},{"x":0.192,"y":0.45,"v":11.2},
{"x":0.018,"y":0.35,"v":4.5},{"x":0.034,"y":0.35,"v":5},{"x":0.05,"y":0.35,"v":5.7},{"x":0.066,"y":0.35,"v":6.2},{"x":0.082,"y":0.35,"v":6.8},{"x":0.097,"y":0.35,"v":7.2},{"x":0.113,"y":0.35,"v":7.7},{"x":0.129,"y":0.35,"v":8.2},{"x":0.145,"y":0.35,"v":8.8},{"x":0.161,"y":0.35,"v":9.3},{"x":0.176,"y":0.35,"v":10},{"x":0.192,"y":0.35,"v":10.8},
{"x":0.018,"y":0.25,"v":4.5},{"x":0.034,"y":0.25,"v":5},{"x":0.05,"y":0.25,"v":5.6},{"x":0.066,"y":0.25,"v":6.2},{"x":0.082,"y":0.25,"v":6.7},{"x":0.097,"y":0.25,"v":7.2},{"x":0.113,"y":0.25,"v":7.7},{"x":0.129,"y":0.25,"v":8.2},{"x":0.145,"y":0.25,"v":8.7},{"x":0.161,"y":0.25,"v":9.2},{"x":0.176,"y":0.25,"v":9.7},{"x":0.192,"y":0.25,"v":10.3}
]},"layer":[{"mark":{"type":"rect","strokeWidth":0.7},"encoding":{"x":{"field":"x","type":"quantitative","bin":{"step":0.0158333,"extent":[0.01,0.2],"nice":false},"scale":{"domain":[0.01,0.2],"range":[733,992],"nice":false,"zero":false},"axis":{"orient":"bottom","values":[0.05,0.1,0.15,0.2],"offset":-836,"title":"MERC SA Ratio","titleFontSize":27,"titleX":852,"titleY":55,"titleAlign":"center","titleBaseline":"alphabetic"}},"y":{"field":"y","type":"quantitative","bin":{"step":0.1,"extent":[0.2,1.2],"nice":false},"scale":{"domain":[0.2,1.2],"range":[732,460],"nice":false,"zero":false},"axis":{"orient":"left","values":[0.2,0.4,0.6,0.8,1,1.2],"offset":-733,"title":null}},"color":{"field":"v","type":"quantitative","scale":{"domain":[4,5,7,9,11,12],"range":["#00007f","#0000ff","#00ffff","#ffff00","#ff0000","#7f0000"],"interpolate":"rgb"},"legend":null},"stroke":{"field":"v","type":"quantitative","scale":{"domain":[4,5,7,9,11,12],"range":["#00007f","#0000ff","#00ffff","#ffff00","#ff0000","#7f0000"],"interpolate":"rgb"},"legend":null}}},{"data":{"name":"one"},"mark":{"type":"rect","fill":null,"stroke":"#808080","strokeWidth":1},"encoding":{"x":{"datum":0.01},"x2":{"datum":0.2},"y":{"datum":0.2},"y2":{"datum":1.2}}}]},
{"data":{"values":[
{"x":0.034,"y":0.22,"v":1.3},{"x":0.081,"y":0.22,"v":1.4},{"x":0.129,"y":0.22,"v":1.5},{"x":0.176,"y":0.22,"v":1.6},
{"x":0.034,"y":0.26,"v":1.65},{"x":0.081,"y":0.26,"v":1.75},{"x":0.129,"y":0.26,"v":1.85},{"x":0.176,"y":0.26,"v":1.95},
{"x":0.034,"y":0.3,"v":1.9},{"x":0.081,"y":0.3,"v":2.05},{"x":0.129,"y":0.3,"v":2.15},{"x":0.176,"y":0.3,"v":2.3},
{"x":0.034,"y":0.35,"v":2.2},{"x":0.081,"y":0.35,"v":2.35},{"x":0.129,"y":0.35,"v":2.45},{"x":0.176,"y":0.35,"v":2.6},
{"x":0.034,"y":0.39,"v":2.5},{"x":0.081,"y":0.39,"v":2.7},{"x":0.129,"y":0.39,"v":2.8},{"x":0.176,"y":0.39,"v":2.9},
{"x":0.034,"y":0.43,"v":2.75},{"x":0.081,"y":0.43,"v":2.95},{"x":0.129,"y":0.43,"v":3.05},{"x":0.176,"y":0.43,"v":3.2},
{"x":0.034,"y":0.47,"v":3.05},{"x":0.081,"y":0.47,"v":3.25},{"x":0.129,"y":0.47,"v":3.4},{"x":0.176,"y":0.47,"v":3.55},
{"x":0.034,"y":0.51,"v":3.35},{"x":0.081,"y":0.51,"v":3.55},{"x":0.129,"y":0.51,"v":3.7},{"x":0.176,"y":0.51,"v":3.85},
{"x":0.034,"y":0.55,"v":3.65},{"x":0.081,"y":0.55,"v":3.85},{"x":0.129,"y":0.55,"v":4},{"x":0.176,"y":0.55,"v":4.25},
{"x":0.034,"y":0.6,"v":3.95},{"x":0.081,"y":0.6,"v":4.15},{"x":0.129,"y":0.6,"v":4.35},{"x":0.176,"y":0.6,"v":4.6},
{"x":0.034,"y":0.64,"v":4.3},{"x":0.081,"y":0.64,"v":4.6},{"x":0.129,"y":0.64,"v":4.75},{"x":0.176,"y":0.64,"v":4.9},
{"x":0.034,"y":0.68,"v":4.55},{"x":0.081,"y":0.68,"v":4.85},{"x":0.129,"y":0.68,"v":5},{"x":0.176,"y":0.68,"v":5.15},
{"x":0.034,"y":0.72,"v":4.85},{"x":0.081,"y":0.72,"v":5.05},{"x":0.129,"y":0.72,"v":5.2},{"x":0.176,"y":0.72,"v":5.45},
{"x":0.034,"y":0.76,"v":5.15},{"x":0.081,"y":0.76,"v":5.35},{"x":0.129,"y":0.76,"v":5.5},{"x":0.176,"y":0.76,"v":5.75},
{"x":0.034,"y":0.8,"v":5.45},{"x":0.081,"y":0.8,"v":5.6},{"x":0.129,"y":0.8,"v":5.75},{"x":0.176,"y":0.8,"v":6.15},
{"x":0.034,"y":0.85,"v":5.75},{"x":0.081,"y":0.85,"v":5.9},{"x":0.129,"y":0.85,"v":6.1},{"x":0.176,"y":0.85,"v":6.5},
{"x":0.034,"y":0.89,"v":6},{"x":0.081,"y":0.89,"v":6.2},{"x":0.129,"y":0.89,"v":6.4},{"x":0.176,"y":0.89,"v":7},
{"x":0.034,"y":0.93,"v":6.25},{"x":0.081,"y":0.93,"v":6.45},{"x":0.129,"y":0.93,"v":6.65},{"x":0.176,"y":0.93,"v":7.25},
{"x":0.034,"y":0.97,"v":6.45},{"x":0.081,"y":0.97,"v":6.75},{"x":0.129,"y":0.97,"v":7},{"x":0.176,"y":0.97,"v":7.75},
{"x":0.034,"y":1.01,"v":6.75},{"x":0.081,"y":1.01,"v":7.05},{"x":0.129,"y":1.01,"v":7.3},{"x":0.176,"y":1.01,"v":8.05},
{"x":0.034,"y":1.05,"v":6.9},{"x":0.081,"y":1.05,"v":7.3},{"x":0.129,"y":1.05,"v":7.6},{"x":0.176,"y":1.05,"v":8.35},
{"x":0.034,"y":1.1,"v":7.15},{"x":0.081,"y":1.1,"v":7.65},{"x":0.129,"y":1.1,"v":7.95},{"x":0.176,"y":1.1,"v":8.7},
{"x":0.034,"y":1.14,"v":7.35},{"x":0.081,"y":1.14,"v":7.95},{"x":0.129,"y":1.14,"v":8.3},{"x":0.176,"y":1.14,"v":9.05},
{"x":0.034,"y":1.18,"v":7.65},{"x":0.081,"y":1.18,"v":8.25},{"x":0.129,"y":1.18,"v":8.6},{"x":0.176,"y":1.18,"v":9.35}
]},"layer":[{"mark":{"type":"rect","strokeWidth":0.7},"encoding":{"x":{"field":"x","type":"quantitative","bin":{"step":0.0475,"extent":[0.01,0.2],"nice":false},"scale":{"domain":[0.01,0.2],"range":[67,330],"nice":false,"zero":false},"axis":{"orient":"bottom","values":[0.05,0.1,0.15,0.2],"offset":-401,"title":null}},"y":{"field":"y","type":"quantitative","bin":{"step":0.0416667,"extent":[0.2,1.2],"nice":false},"scale":{"domain":[0.2,1.2],"range":[1167,898],"nice":false,"zero":false},"axis":{"orient":"left","values":[0.2,0.4,0.6,0.8,1,1.2],"offset":-67,"title":"Mitochondrial Length [µm]","titleX":-38,"titleY":1020,"titleBaseline":"alphabetic"}},"color":{"field":"v","type":"quantitative","scale":{"domain":[1.05,2.29,4.78,7.27,9.76,11],"range":["#00007f","#0000ff","#00ffff","#ffff00","#ff0000","#7f0000"],"interpolate":"rgb"},"legend":null},"stroke":{"field":"v","type":"quantitative","scale":{"domain":[1.05,2.29,4.78,7.27,9.76,11],"range":["#00007f","#0000ff","#00ffff","#ffff00","#ff0000","#7f0000"],"interpolate":"rgb"},"legend":null}}},{"data":{"name":"one"},"mark":{"type":"rect","fill":null,"stroke":"#808080","strokeWidth":1},"encoding":{"x":{"datum":0.01},"x2":{"datum":0.2},"y":{"datum":0.2},"y2":{"datum":1.2}}}]},
{"data":{"values":[
{"x":0.034,"y":0.22,"v":1.2},{"x":0.081,"y":0.22,"v":1.25},{"x":0.129,"y":0.22,"v":1.35},{"x":0.176,"y":0.22,"v":1.4},
{"x":0.034,"y":0.26,"v":1.55},{"x":0.081,"y":0.26,"v":1.6},{"x":0.129,"y":0.26,"v":1.65},{"x":0.176,"y":0.26,"v":1.7},
{"x":0.034,"y":0.3,"v":1.8},{"x":0.081,"y":0.3,"v":1.9},{"x":0.129,"y":0.3,"v":2},{"x":0.176,"y":0.3,"v":2.1},
{"x":0.034,"y":0.35,"v":2.1},{"x":0.081,"y":0.35,"v":2.2},{"x":0.129,"y":0.35,"v":2.3},{"x":0.176,"y":0.35,"v":2.4},
{"x":0.034,"y":0.39,"v":2.4},{"x":0.081,"y":0.39,"v":2.5},{"x":0.129,"y":0.39,"v":2.6},{"x":0.176,"y":0.39,"v":2.7},
{"x":0.034,"y":0.43,"v":2.65},{"x":0.081,"y":0.43,"v":2.75},{"x":0.129,"y":0.43,"v":2.85},{"x":0.176,"y":0.43,"v":2.95},
{"x":0.034,"y":0.47,"v":2.95},{"x":0.081,"y":0.47,"v":3.05},{"x":0.129,"y":0.47,"v":3.2},{"x":0.176,"y":0.47,"v":3.35},
{"x":0.034,"y":0.51,"v":3.25},{"x":0.081,"y":0.51,"v":3.35},{"x":0.129,"y":0.51,"v":3.5},{"x":0.176,"y":0.51,"v":3.65},
{"x":0.034,"y":0.55,"v":3.55},{"x":0.081,"y":0.55,"v":3.7},{"x":0.129,"y":0.55,"v":3.85},{"x":0.176,"y":0.55,"v":3.95},
{"x":0.034,"y":0.6,"v":3.85},{"x":0.081,"y":0.6,"v":4},{"x":0.129,"y":0.6,"v":4.15},{"x":0.176,"y":0.6,"v":4.3},
{"x":0.034,"y":0.64,"v":4.2},{"x":0.081,"y":0.64,"v":4.35},{"x":0.129,"y":0.64,"v":4.5},{"x":0.176,"y":0.64,"v":4.6},
{"x":0.034,"y":0.68,"v":4.45},{"x":0.081,"y":0.68,"v":4.6},{"x":0.129,"y":0.68,"v":4.75},{"x":0.176,"y":0.68,"v":4.85},
{"x":0.034,"y":0.72,"v":4.65},{"x":0.081,"y":0.72,"v":4.8},{"x":0.129,"y":0.72,"v":4.95},{"x":0.176,"y":0.72,"v":5.05},
{"x":0.034,"y":0.76,"v":4.95},{"x":0.081,"y":0.76,"v":5.1},{"x":0.129,"y":0.76,"v":5.25},{"x":0.176,"y":0.76,"v":5.35},
{"x":0.034,"y":0.8,"v":5.25},{"x":0.081,"y":0.8,"v":5.35},{"x":0.129,"y":0.8,"v":5.55},{"x":0.176,"y":0.8,"v":5.65},
{"x":0.034,"y":0.85,"v":5.6},{"x":0.081,"y":0.85,"v":5.7},{"x":0.129,"y":0.85,"v":5.9},{"x":0.176,"y":0.85,"v":6},
{"x":0.034,"y":0.89,"v":5.7},{"x":0.081,"y":0.89,"v":5.95},{"x":0.129,"y":0.89,"v":6.1},{"x":0.176,"y":0.89,"v":6.3},
{"x":0.034,"y":0.93,"v":5.95},{"x":0.081,"y":0.93,"v":6.2},{"x":0.129,"y":0.93,"v":6.35},{"x":0.176,"y":0.93,"v":6.55},
{"x":0.034,"y":0.97,"v":6.15},{"x":0.081,"y":0.97,"v":6.45},{"x":0.129,"y":0.97,"v":6.65},{"x":0.176,"y":0.97,"v":6.85},
{"x":0.034,"y":1.01,"v":6.45},{"x":0.081,"y":1.01,"v":6.75},{"x":0.129,"y":1.01,"v":6.95},{"x":0.176,"y":1.01,"v":7.15},
{"x":0.034,"y":1.05,"v":6.65},{"x":0.081,"y":1.05,"v":7},{"x":0.129,"y":1.05,"v":7.25},{"x":0.176,"y":1.05,"v":7.45},
{"x":0.034,"y":1.1,"v":7},{"x":0.081,"y":1.1,"v":7.35},{"x":0.129,"y":1.1,"v":7.6},{"x":0.176,"y":1.1,"v":7.8},
{"x":0.034,"y":1.14,"v":7.25},{"x":0.081,"y":1.14,"v":7.6},{"x":0.129,"y":1.14,"v":7.85},{"x":0.176,"y":1.14,"v":8.15},
{"x":0.034,"y":1.18,"v":7.55},{"x":0.081,"y":1.18,"v":7.9},{"x":0.129,"y":1.18,"v":8.15},{"x":0.176,"y":1.18,"v":8.45}
]},"layer":[{"mark":{"type":"rect","strokeWidth":0.7},"encoding":{"x":{"field":"x","type":"quantitative","bin":{"step":0.0475,"extent":[0.01,0.2],"nice":false},"scale":{"domain":[0.01,0.2],"range":[67,330],"nice":false,"zero":false},"axis":{"orient":"bottom","values":[0.05,0.1,0.15,0.2],"offset":-71,"title":"MERC SA Ratio","titleFontSize":27,"titleX":196,"titleY":61,"titleAlign":"center","titleBaseline":"alphabetic"}},"y":{"field":"y","type":"quantitative","bin":{"step":0.0416667,"extent":[0.2,1.2],"nice":false},"scale":{"domain":[0.2,1.2],"range":[1497,1228],"nice":false,"zero":false},"axis":{"orient":"left","values":[0.2,0.4,0.6,0.8,1,1.2],"offset":-67,"title":"Mitochondrial Length [µm]","titleX":-38,"titleY":1370,"titleBaseline":"alphabetic"}},"color":{"field":"v","type":"quantitative","scale":{"domain":[1.05,2.29,4.78,7.27,9.76,11],"range":["#00007f","#0000ff","#00ffff","#ffff00","#ff0000","#7f0000"],"interpolate":"rgb"},"legend":null},"stroke":{"field":"v","type":"quantitative","scale":{"domain":[1.05,2.29,4.78,7.27,9.76,11],"range":["#00007f","#0000ff","#00ffff","#ffff00","#ff0000","#7f0000"],"interpolate":"rgb"},"legend":null}}},{"data":{"name":"one"},"mark":{"type":"rect","fill":null,"stroke":"#808080","strokeWidth":1},"encoding":{"x":{"datum":0.01},"x2":{"datum":0.2},"y":{"datum":0.2},"y2":{"datum":1.2}}}]},
{"data":{"values":[
{"x":0.034,"y":0.22,"v":1.75},{"x":0.081,"y":0.22,"v":1.85},{"x":0.129,"y":0.22,"v":1.9},{"x":0.176,"y":0.22,"v":1.95},
{"x":0.034,"y":0.26,"v":2},{"x":0.081,"y":0.26,"v":2.1},{"x":0.129,"y":0.26,"v":2.1},{"x":0.176,"y":0.26,"v":2.2},
{"x":0.034,"y":0.3,"v":2.2},{"x":0.081,"y":0.3,"v":2.3},{"x":0.129,"y":0.3,"v":2.35},{"x":0.176,"y":0.3,"v":2.4},
{"x":0.034,"y":0.35,"v":2.5},{"x":0.081,"y":0.35,"v":2.6},{"x":0.129,"y":0.35,"v":2.65},{"x":0.176,"y":0.35,"v":2.7},
{"x":0.034,"y":0.39,"v":2.8},{"x":0.081,"y":0.39,"v":2.95},{"x":0.129,"y":0.39,"v":3.05},{"x":0.176,"y":0.39,"v":3.1},
{"x":0.034,"y":0.43,"v":3.05},{"x":0.081,"y":0.43,"v":3.2},{"x":0.129,"y":0.43,"v":3.3},{"x":0.176,"y":0.43,"v":3.35},
{"x":0.034,"y":0.47,"v":3.45},{"x":0.081,"y":0.47,"v":3.6},{"x":0.129,"y":0.47,"v":3.7},{"x":0.176,"y":0.47,"v":3.85},
{"x":0.034,"y":0.51,"v":3.75},{"x":0.081,"y":0.51,"v":3.9},{"x":0.129,"y":0.51,"v":4},{"x":0.176,"y":0.51,"v":4.15},
{"x":0.034,"y":0.55,"v":4.15},{"x":0.081,"y":0.55,"v":4.3},{"x":0.129,"y":0.55,"v":4.45},{"x":0.176,"y":0.55,"v":4.55},
{"x":0.034,"y":0.6,"v":4.5},{"x":0.081,"y":0.6,"v":4.7},{"x":0.129,"y":0.6,"v":4.8},{"x":0.176,"y":0.6,"v":4.9},
{"x":0.034,"y":0.64,"v":4.9},{"x":0.081,"y":0.64,"v":5.05},{"x":0.129,"y":0.64,"v":5.2},{"x":0.176,"y":0.64,"v":5.3},
{"x":0.034,"y":0.68,"v":5.15},{"x":0.081,"y":0.68,"v":5.3},{"x":0.129,"y":0.68,"v":5.45},{"x":0.176,"y":0.68,"v":5.55},
{"x":0.034,"y":0.72,"v":5.45},{"x":0.081,"y":0.72,"v":5.7},{"x":0.129,"y":0.72,"v":5.85},{"x":0.176,"y":0.72,"v":5.95},
{"x":0.034,"y":0.76,"v":5.75},{"x":0.081,"y":0.76,"v":6},{"x":0.129,"y":0.76,"v":6.15},{"x":0.176,"y":0.76,"v":6.25},
{"x":0.034,"y":0.8,"v":6.15},{"x":0.081,"y":0.8,"v":6.4},{"x":0.129,"y":0.8,"v":6.55},{"x":0.176,"y":0.8,"v":6.65},
{"x":0.034,"y":0.85,"v":6.5},{"x":0.081,"y":0.85,"v":6.75},{"x":0.129,"y":0.85,"v":6.9},{"x":0.176,"y":0.85,"v":7},
{"x":0.034,"y":0.89,"v":7.1},{"x":0.081,"y":0.89,"v":7.3},{"x":0.129,"y":0.89,"v":7.4},{"x":0.176,"y":0.89,"v":7.5},
{"x":0.034,"y":0.93,"v":7.35},{"x":0.081,"y":0.93,"v":7.55},{"x":0.129,"y":0.93,"v":7.65},{"x":0.176,"y":0.93,"v":7.75},
{"x":0.034,"y":0.97,"v":7.75},{"x":0.081,"y":0.97,"v":7.95},{"x":0.129,"y":0.97,"v":8.05},{"x":0.176,"y":0.97,"v":8.15},
{"x":0.034,"y":1.01,"v":8.05},{"x":0.081,"y":1.01,"v":8.25},{"x":0.129,"y":1.01,"v":8.35},{"x":0.176,"y":1.01,"v":8.45},
{"x":0.034,"y":1.05,"v":8.35},{"x":0.081,"y":1.05,"v":8.6},{"x":0.129,"y":1.05,"v":8.75},{"x":0.176,"y":1.05,"v":8.85},
{"x":0.034,"y":1.1,"v":8.7},{"x":0.081,"y":1.1,"v":8.95},{"x":0.129,"y":1.1,"v":9.1},{"x":0.176,"y":1.1,"v":9.2},
{"x":0.034,"y":1.14,"v":9.05},{"x":0.081,"y":1.14,"v":9.3},{"x":0.129,"y":1.14,"v":9.45},{"x":0.176,"y":1.14,"v":9.6},
{"x":0.034,"y":1.18,"v":9.35},{"x":0.081,"y":1.18,"v":9.6},{"x":0.129,"y":1.18,"v":9.75},{"x":0.176,"y":1.18,"v":9.95}
]},"layer":[{"mark":{"type":"rect","strokeWidth":0.7},"encoding":{"x":{"field":"x","type":"quantitative","bin":{"step":0.0475,"extent":[0.01,0.2],"nice":false},"scale":{"domain":[0.01,0.2],"range":[392,655],"nice":false,"zero":false},"axis":{"orient":"bottom","values":[0.05,0.1,0.15,0.2],"offset":-400,"title":null}},"y":{"field":"y","type":"quantitative","bin":{"step":0.0416667,"extent":[0.2,1.2],"nice":false},"scale":{"domain":[0.2,1.2],"range":[1168,898],"nice":false,"zero":false},"axis":{"orient":"left","values":[0.2,0.4,0.6,0.8,1,1.2],"offset":-392,"title":null}},"color":{"field":"v","type":"quantitative","scale":{"domain":[1.05,2.29,4.78,7.27,9.76,11],"range":["#00007f","#0000ff","#00ffff","#ffff00","#ff0000","#7f0000"],"interpolate":"rgb"},"legend":null},"stroke":{"field":"v","type":"quantitative","scale":{"domain":[1.05,2.29,4.78,7.27,9.76,11],"range":["#00007f","#0000ff","#00ffff","#ffff00","#ff0000","#7f0000"],"interpolate":"rgb"},"legend":null}}},{"data":{"name":"one"},"mark":{"type":"rect","fill":null,"stroke":"#808080","strokeWidth":1},"encoding":{"x":{"datum":0.01},"x2":{"datum":0.2},"y":{"datum":0.2},"y2":{"datum":1.2}}}]},
{"data":{"values":[
{"x":0.034,"y":0.22,"v":1.1},{"x":0.081,"y":0.22,"v":1.2},{"x":0.129,"y":0.22,"v":1.25},{"x":0.176,"y":0.22,"v":1.3},
{"x":0.034,"y":0.26,"v":1.4},{"x":0.081,"y":0.26,"v":1.5},{"x":0.129,"y":0.26,"v":1.5},{"x":0.176,"y":0.26,"v":1.6},
{"x":0.034,"y":0.3,"v":1.65},{"x":0.081,"y":0.3,"v":1.7},{"x":0.129,"y":0.3,"v":1.75},{"x":0.176,"y":0.3,"v":1.9},
{"x":0.034,"y":0.35,"v":1.95},{"x":0.081,"y":0.35,"v":2},{"x":0.129,"y":0.35,"v":2.05},{"x":0.176,"y":0.35,"v":2.2},
{"x":0.034,"y":0.39,"v":2.2},{"x":0.081,"y":0.39,"v":2.25},{"x":0.129,"y":0.39,"v":2.3},{"x":0.176,"y":0.39,"v":2.4},
{"x":0.034,"y":0.43,"v":2.45},{"x":0.081,"y":0.43,"v":2.5},{"x":0.129,"y":0.43,"v":2.55},{"x":0.176,"y":0.43,"v":2.65},
{"x":0.034,"y":0.47,"v":2.65},{"x":0.081,"y":0.47,"v":2.75},{"x":0.129,"y":0.47,"v":2.85},{"x":0.176,"y":0.47,"v":2.95},
{"x":0.034,"y":0.51,"v":2.95},{"x":0.081,"y":0.51,"v":3.05},{"x":0.129,"y":0.51,"v":3.15},{"x":0.176,"y":0.51,"v":3.25},
{"x":0.034,"y":0.55,"v":3.15},{"x":0.081,"y":0.55,"v":3.25},{"x":0.129,"y":0.55,"v":3.35},{"x":0.176,"y":0.55,"v":3.45},
{"x":0.034,"y":0.6,"v":3.5},{"x":0.081,"y":0.6,"v":3.6},{"x":0.129,"y":0.6,"v":3.7},{"x":0.176,"y":0.6,"v":3.8},
{"x":0.034,"y":0.64,"v":3.7},{"x":0.081,"y":0.64,"v":3.85},{"x":0.129,"y":0.64,"v":3.9},{"x":0.176,"y":0.64,"v":4},
{"x":0.034,"y":0.68,"v":3.95},{"x":0.081,"y":0.68,"v":4.1},{"x":0.129,"y":0.68,"v":4.15},{"x":0.176,"y":0.68,"v":4.25},
{"x":0.034,"y":0.72,"v":4.15},{"x":0.081,"y":0.72,"v":4.3},{"x":0.129,"y":0.72,"v":4.45},{"x":0.176,"y":0.72,"v":4.55},
{"x":0.034,"y":0.76,"v":4.45},{"x":0.081,"y":0.76,"v":4.6},{"x":0.129,"y":0.76,"v":4.75},{"x":0.176,"y":0.76,"v":4.85},
{"x":0.034,"y":0.8,"v":4.65},{"x":0.081,"y":0.8,"v":4.8},{"x":0.129,"y":0.8,"v":4.85},{"x":0.176,"y":0.8,"v":4.95},
{"x":0.034,"y":0.85,"v":5},{"x":0.081,"y":0.85,"v":5.15},{"x":0.129,"y":0.85,"v":5.2},{"x":0.176,"y":0.85,"v":5.3},
{"x":0.034,"y":0.89,"v":5.2},{"x":0.081,"y":0.89,"v":5.35},{"x":0.129,"y":0.89,"v":5.5},{"x":0.176,"y":0.89,"v":5.6},
{"x":0.034,"y":0.93,"v":5.45},{"x":0.081,"y":0.93,"v":5.6},{"x":0.129,"y":0.93,"v":5.75},{"x":0.176,"y":0.93,"v":5.85},
{"x":0.034,"y":0.97,"v":5.65},{"x":0.081,"y":0.97,"v":5.8},{"x":0.129,"y":0.97,"v":5.95},{"x":0.176,"y":0.97,"v":6.15},
{"x":0.034,"y":1.01,"v":5.95},{"x":0.081,"y":1.01,"v":6.1},{"x":0.129,"y":1.01,"v":6.25},{"x":0.176,"y":1.01,"v":6.45},
{"x":0.034,"y":1.05,"v":6.05},{"x":0.081,"y":1.05,"v":6.25},{"x":0.129,"y":1.05,"v":6.55},{"x":0.176,"y":1.05,"v":6.85},
{"x":0.034,"y":1.1,"v":6.4},{"x":0.081,"y":1.1,"v":6.6},{"x":0.129,"y":1.1,"v":6.9},{"x":0.176,"y":1.1,"v":7.2},
{"x":0.034,"y":1.14,"v":6.65},{"x":0.081,"y":1.14,"v":6.85},{"x":0.129,"y":1.14,"v":7.15},{"x":0.176,"y":1.14,"v":7.55},
{"x":0.034,"y":1.18,"v":6.95},{"x":0.081,"y":1.18,"v":7.1},{"x":0.129,"y":1.18,"v":7.45},{"x":0.176,"y":1.18,"v":7.85}
]},"layer":[{"mark":{"type":"rect","strokeWidth":0.7},"encoding":{"x":{"field":"x","type":"quantitative","bin":{"step":0.0475,"extent":[0.01,0.2],"nice":false},"scale":{"domain":[0.01,0.2],"range":[392,654],"nice":false,"zero":false},"axis":{"orient":"bottom","values":[0.05,0.1,0.15,0.2],"offset":-57,"title":"MERC SA Ratio","titleFontSize":27,"titleX":535,"titleY":48,"titleAlign":"center","titleBaseline":"alphabetic"}},"y":{"field":"y","type":"quantitative","bin":{"step":0.0416667,"extent":[0.2,1.2],"nice":false},"scale":{"domain":[0.2,1.2],"range":[1511,1242],"nice":false,"zero":false},"axis":{"orient":"left","values":[0.2,0.4,0.6,0.8,1,1.2],"offset":-392,"title":null}},"color":{"field":"v","type":"quantitative","scale":{"domain":[1.05,2.29,4.78,7.27,9.76,11],"range":["#00007f","#0000ff","#00ffff","#ffff00","#ff0000","#7f0000"],"interpolate":"rgb"},"legend":null},"stroke":{"field":"v","type":"quantitative","scale":{"domain":[1.05,2.29,4.78,7.27,9.76,11],"range":["#00007f","#0000ff","#00ffff","#ffff00","#ff0000","#7f0000"],"interpolate":"rgb"},"legend":null}}},{"data":{"name":"one"},"mark":{"type":"rect","fill":null,"stroke":"#808080","strokeWidth":1},"encoding":{"x":{"datum":0.01},"x2":{"datum":0.2},"y":{"datum":0.2},"y2":{"datum":1.2}}}]},
{"data":{"values":[
{"x":0.034,"y":0.22,"v":1.3},{"x":0.081,"y":0.22,"v":1.4},{"x":0.129,"y":0.22,"v":1.4},{"x":0.176,"y":0.22,"v":1.5},
{"x":0.034,"y":0.26,"v":1.65},{"x":0.081,"y":0.26,"v":1.75},{"x":0.129,"y":0.26,"v":1.75},{"x":0.176,"y":0.26,"v":1.85},
{"x":0.034,"y":0.3,"v":1.9},{"x":0.081,"y":0.3,"v":1.95},{"x":0.129,"y":0.3,"v":2.05},{"x":0.176,"y":0.3,"v":2.2},
{"x":0.034,"y":0.35,"v":2.2},{"x":0.081,"y":0.35,"v":2.25},{"x":0.129,"y":0.35,"v":2.35},{"x":0.176,"y":0.35,"v":2.5},
{"x":0.034,"y":0.39,"v":2.5},{"x":0.081,"y":0.39,"v":2.65},{"x":0.129,"y":0.39,"v":2.8},{"x":0.176,"y":0.39,"v":2.8},
{"x":0.034,"y":0.43,"v":2.75},{"x":0.081,"y":0.43,"v":2.9},{"x":0.129,"y":0.43,"v":3.05},{"x":0.176,"y":0.43,"v":3.05},
{"x":0.034,"y":0.47,"v":3.05},{"x":0.081,"y":0.47,"v":3.2},{"x":0.129,"y":0.47,"v":3.35},{"x":0.176,"y":0.47,"v":3.45},
{"x":0.034,"y":0.51,"v":3.35},{"x":0.081,"y":0.51,"v":3.5},{"x":0.129,"y":0.51,"v":3.65},{"x":0.176,"y":0.51,"v":3.75},
{"x":0.034,"y":0.55,"v":3.55},{"x":0.081,"y":0.55,"v":3.75},{"x":0.129,"y":0.55,"v":3.95},{"x":0.176,"y":0.55,"v":4.05},
{"x":0.034,"y":0.6,"v":3.9},{"x":0.081,"y":0.6,"v":4.1},{"x":0.129,"y":0.6,"v":4.3},{"x":0.176,"y":0.6,"v":4.4},
{"x":0.034,"y":0.64,"v":4.2},{"x":0.081,"y":0.64,"v":4.4},{"x":0.129,"y":0.64,"v":4.6},{"x":0.176,"y":0.64,"v":4.8},
{"x":0.034,"y":0.68,"v":4.45},{"x":0.081,"y":0.68,"v":4.65},{"x":0.129,"y":0.68,"v":4.85},{"x":0.176,"y":0.68,"v":5.05},
{"x":0.034,"y":0.72,"v":4.75},{"x":0.081,"y":0.72,"v":4.9},{"x":0.129,"y":0.72,"v":5.05},{"x":0.176,"y":0.72,"v":5.25},
{"x":0.034,"y":0.76,"v":5.05},{"x":0.081,"y":0.76,"v":5.2},{"x":0.129,"y":0.76,"v":5.35},{"x":0.176,"y":0.76,"v":5.55},
{"x":0.034,"y":0.8,"v":5.25},{"x":0.081,"y":0.8,"v":5.4},{"x":0.129,"y":0.8,"v":5.65},{"x":0.176,"y":0.8,"v":5.85},
{"x":0.034,"y":0.85,"v":5.6},{"x":0.081,"y":0.85,"v":5.75},{"x":0.129,"y":0.85,"v":6},{"x":0.176,"y":0.85,"v":6.2},
{"x":0.034,"y":0.89,"v":5.8},{"x":0.081,"y":0.89,"v":6},{"x":0.129,"y":0.89,"v":6.3},{"x":0.176,"y":0.89,"v":6.6},
{"x":0.034,"y":0.93,"v":6.05},{"x":0.081,"y":0.93,"v":6.25},{"x":0.129,"y":0.93,"v":6.55},{"x":0.176,"y":0.93,"v":6.85},
{"x":0.034,"y":0.97,"v":6.15},{"x":0.081,"y":0.97,"v":6.5},{"x":0.129,"y":0.97,"v":6.85},{"x":0.176,"y":0.97,"v":7.25},
{"x":0.034,"y":1.01,"v":6.45},{"x":0.081,"y":1.01,"v":6.8},{"x":0.129,"y":1.01,"v":7.15},{"x":0.176,"y":1.01,"v":7.55},
{"x":0.034,"y":1.05,"v":6.65},{"x":0.081,"y":1.05,"v":7},{"x":0.129,"y":1.05,"v":7.45},{"x":0.176,"y":1.05,"v":7.85},
{"x":0.034,"y":1.1,"v":7},{"x":0.081,"y":1.1,"v":7.35},{"x":0.129,"y":1.1,"v":7.8},{"x":0.176,"y":1.1,"v":8.2},
{"x":0.034,"y":1.14,"v":7.15},{"x":0.081,"y":1.14,"v":7.6},{"x":0.129,"y":1.14,"v":8.15},{"x":0.176,"y":1.14,"v":8.55},
{"x":0.034,"y":1.18,"v":7.45},{"x":0.081,"y":1.18,"v":7.9},{"x":0.129,"y":1.18,"v":8.45},{"x":0.176,"y":1.18,"v":8.85}
]},"layer":[{"mark":{"type":"rect","strokeWidth":0.7},"encoding":{"x":{"field":"x","type":"quantitative","bin":{"step":0.0475,"extent":[0.01,0.2],"nice":false},"scale":{"domain":[0.01,0.2],"range":[726,988],"nice":false,"zero":false},"axis":{"orient":"bottom","values":[0.05,0.1,0.15,0.2],"offset":-405,"title":null}},"y":{"field":"y","type":"quantitative","bin":{"step":0.0416667,"extent":[0.2,1.2],"nice":false},"scale":{"domain":[0.2,1.2],"range":[1163,894],"nice":false,"zero":false},"axis":{"orient":"left","values":[0.2,0.4,0.6,0.8,1,1.2],"offset":-726,"title":null}},"color":{"field":"v","type":"quantitative","scale":{"domain":[1.05,2.29,4.78,7.27,9.76,11],"range":["#00007f","#0000ff","#00ffff","#ffff00","#ff0000","#7f0000"],"interpolate":"rgb"},"legend":null},"stroke":{"field":"v","type":"quantitative","scale":{"domain":[1.05,2.29,4.78,7.27,9.76,11],"range":["#00007f","#0000ff","#00ffff","#ffff00","#ff0000","#7f0000"],"interpolate":"rgb"},"legend":null}}},{"data":{"name":"one"},"mark":{"type":"rect","fill":null,"stroke":"#808080","strokeWidth":1},"encoding":{"x":{"datum":0.01},"x2":{"datum":0.2},"y":{"datum":0.2},"y2":{"datum":1.2}}}]},
{"data":{"values":[
{"x":0.034,"y":0.22,"v":1.3},{"x":0.081,"y":0.22,"v":1.35},{"x":0.129,"y":0.22,"v":1.4},{"x":0.176,"y":0.22,"v":1.4},
{"x":0.034,"y":0.26,"v":1.6},{"x":0.081,"y":0.26,"v":1.6},{"x":0.129,"y":0.26,"v":1.7},{"x":0.176,"y":0.26,"v":1.7},
{"x":0.034,"y":0.3,"v":1.8},{"x":0.081,"y":0.3,"v":1.9},{"x":0.129,"y":0.3,"v":1.95},{"x":0.176,"y":0.3,"v":2.1},
{"x":0.034,"y":0.35,"v":2.1},{"x":0.081,"y":0.35,"v":2.2},{"x":0.129,"y":0.35,"v":2.25},{"x":0.176,"y":0.35,"v":2.4},
{"x":0.034,"y":0.39,"v":2.4},{"x":0.081,"y":0.39,"v":2.55},{"x":0.129,"y":0.39,"v":2.6},{"x":0.176,"y":0.39,"v":2.7},
{"x":0.034,"y":0.43,"v":2.65},{"x":0.081,"y":0.43,"v":2.8},{"x":0.129,"y":0.43,"v":2.85},{"x":0.176,"y":0.43,"v":2.95},
{"x":0.034,"y":0.47,"v":2.95},{"x":0.081,"y":0.47,"v":3.1},{"x":0.129,"y":0.47,"v":3.25},{"x":0.176,"y":0.47,"v":3.35},
{"x":0.034,"y":0.51,"v":3.25},{"x":0.081,"y":0.51,"v":3.4},{"x":0.129,"y":0.51,"v":3.55},{"x":0.176,"y":0.51,"v":3.65},
{"x":0.034,"y":0.55,"v":3.45},{"x":0.081,"y":0.55,"v":3.65},{"x":0.129,"y":0.55,"v":3.85},{"x":0.176,"y":0.55,"v":3.95},
{"x":0.034,"y":0.6,"v":3.8},{"x":0.081,"y":0.6,"v":4},{"x":0.129,"y":0.6,"v":4.2},{"x":0.176,"y":0.6,"v":4.3},
{"x":0.034,"y":0.64,"v":4.1},{"x":0.081,"y":0.64,"v":4.3},{"x":0.129,"y":0.64,"v":4.5},{"x":0.176,"y":0.64,"v":4.6},
{"x":0.034,"y":0.68,"v":4.35},{"x":0.081,"y":0.68,"v":4.55},{"x":0.129,"y":0.68,"v":4.75},{"x":0.176,"y":0.68,"v":4.85},
{"x":0.034,"y":0.72,"v":4.55},{"x":0.081,"y":0.72,"v":4.75},{"x":0.129,"y":0.72,"v":4.95},{"x":0.176,"y":0.72,"v":5.05},
{"x":0.034,"y":0.76,"v":4.85},{"x":0.081,"y":0.76,"v":5.05},{"x":0.129,"y":0.76,"v":5.25},{"x":0.176,"y":0.76,"v":5.35},
{"x":0.034,"y":0.8,"v":5.15},{"x":0.081,"y":0.8,"v":5.3},{"x":0.129,"y":0.8,"v":5.45},{"x":0.176,"y":0.8,"v":5.65},
{"x":0.034,"y":0.85,"v":5.5},{"x":0.081,"y":0.85,"v":5.65},{"x":0.129,"y":0.85,"v":5.8},{"x":0.176,"y":0.85,"v":6},
{"x":0.034,"y":0.89,"v":5.7},{"x":0.081,"y":0.89,"v":5.9},{"x":0.129,"y":0.89,"v":6.1},{"x":0.176,"y":0.89,"v":6.3},
{"x":0.034,"y":0.93,"v":5.95},{"x":0.081,"y":0.93,"v":6.15},{"x":0.129,"y":0.93,"v":6.35},{"x":0.176,"y":0.93,"v":6.55},
{"x":0.034,"y":0.97,"v":6.15},{"x":0.081,"y":0.97,"v":6.35},{"x":0.129,"y":0.97,"v":6.65},{"x":0.176,"y":0.97,"v":6.95},
{"x":0.034,"y":1.01,"v":6.45},{"x":0.081,"y":1.01,"v":6.65},{"x":0.129,"y":1.01,"v":6.95},{"x":0.176,"y":1.01,"v":7.25},
{"x":0.034,"y":1.05,"v":6.65},{"x":0.081,"y":1.05,"v":6.9},{"x":0.129,"y":1.05,"v":7.35},{"x":0.176,"y":1.05,"v":7.65},
{"x":0.034,"y":1.1,"v":7},{"x":0.081,"y":1.1,"v":7.25},{"x":0.129,"y":1.1,"v":7.7},{"x":0.176,"y":1.1,"v":8},
{"x":0.034,"y":1.14,"v":7.25},{"x":0.081,"y":1.14,"v":7.6},{"x":0.129,"y":1.14,"v":8.15},{"x":0.176,"y":1.14,"v":8.55},
{"x":0.034,"y":1.18,"v":7.55},{"x":0.081,"y":1.18,"v":7.9},{"x":0.129,"y":1.18,"v":8.45},{"x":0.176,"y":1.18,"v":8.85}
]},"layer":[{"mark":{"type":"rect","strokeWidth":0.7},"encoding":{"x":{"field":"x","type":"quantitative","bin":{"step":0.0475,"extent":[0.01,0.2],"nice":false},"scale":{"domain":[0.01,0.2],"range":[726,988],"nice":false,"zero":false},"axis":{"orient":"bottom","values":[0.05,0.1,0.15,0.2],"offset":-57,"title":"MERC SA Ratio","titleFontSize":27,"titleX":869,"titleY":50,"titleAlign":"center","titleBaseline":"alphabetic"}},"y":{"field":"y","type":"quantitative","bin":{"step":0.0416667,"extent":[0.2,1.2],"nice":false},"scale":{"domain":[0.2,1.2],"range":[1511,1242],"nice":false,"zero":false},"axis":{"orient":"left","values":[0.2,0.4,0.6,0.8,1,1.2],"offset":-726,"title":null}},"color":{"field":"v","type":"quantitative","scale":{"domain":[1.05,2.29,4.78,7.27,9.76,11],"range":["#00007f","#0000ff","#00ffff","#ffff00","#ff0000","#7f0000"],"interpolate":"rgb"},"legend":null},"stroke":{"field":"v","type":"quantitative","scale":{"domain":[1.05,2.29,4.78,7.27,9.76,11],"range":["#00007f","#0000ff","#00ffff","#ffff00","#ff0000","#7f0000"],"interpolate":"rgb"},"legend":null}}},{"data":{"name":"one"},"mark":{"type":"rect","fill":null,"stroke":"#808080","strokeWidth":1},"encoding":{"x":{"datum":0.01},"x2":{"datum":0.2},"y":{"datum":0.2},"y2":{"datum":1.2}}}]},
{"data":{"values":[]},"mark":"rect","encoding":{"color":{"field":"v","type":"quantitative","scale":{"domain":[4,5,7,9,11,12],"range":["#00007f","#0000ff","#00ffff","#ffff00","#ff0000","#7f0000"],"interpolate":"rgb"},"legend":{"type":"gradient","orient":"none","legendX":1026,"legendY":224,"title":null,"gradientLength":340,"gradientThickness":24,"gradientStrokeColor":"#808080","gradientStrokeWidth":1,"values":[4,6,8,10,12],"labelFont":"Roboto","labelFontWeight":"bold","labelFontSize":17,"labelColor":"#404040","labelOffset":6,"encode":{"labels":{"update":{"baseline":{"value":"middle"}}}}}}}},
{"data":{"values":[]},"mark":"rect","encoding":{"color":{"field":"v","type":"quantitative","scale":{"domain":[1.05,2.29,4.78,7.27,9.76,11],"range":["#00007f","#0000ff","#00ffff","#ffff00","#ff0000","#7f0000"],"interpolate":"rgb"},"legend":{"type":"gradient","orient":"none","legendX":1023,"legendY":1009,"title":null,"gradientLength":346,"gradientThickness":24,"gradientStrokeColor":"#808080","gradientStrokeWidth":1,"values":[2,4,6,8,10],"labelFont":"Roboto","labelFontWeight":"bold","labelFontSize":17,"labelColor":"#404040","labelOffset":6,"encode":{"labels":{"update":{"baseline":{"value":"middle"}}}}}}}},
{"data":{"name":"one"},"mark":{"type":"text","style":"h","x":247,"y":46,"text":"30s AUC Cytosolic ATP [# • s ]"},"encoding":{}},
{"data":{"name":"one"},"mark":{"type":"text","style":"h","x":208,"y":854,"text":"30s AUC Mitochondrial ATP [# • s ]"},"encoding":{}},
{"data":{"name":"one"},"mark":{"type":"text","style":"u","x":1032,"y":185,"text":"[# • s ]"},"encoding":{}},
{"data":{"name":"one"},"mark":{"type":"text","style":"u","x":1032,"y":951,"text":"[# • s ]"},"encoding":{}},
{"data":{"name":"one"},"mark":{"type":"text","style":"m","x":1052,"y":216,"text":"×10"},"encoding":{}},
{"data":{"name":"one"},"mark":{"type":"text","style":"n","x":1081,"y":209,"text":"6"},"encoding":{}},
{"data":{"name":"one"},"mark":{"type":"text","style":"m","x":1049,"y":1001,"text":"×10"},"encoding":{}},
{"data":{"name":"one"},"mark":{"type":"text","style":"n","x":1078,"y":994,"text":"9"},"encoding":{}},
{"data":{"name":"one"},"mark":{"type":"text","style":"l","x":28,"y":71,"text":"a)"},"encoding":{}},
{"data":{"name":"one"},"mark":{"type":"text","style":"l","x":40,"y":850,"text":"b)"},"encoding":{}},
{"data":{"name":"one"},"mark":{"type":"text","style":"t","x":88,"y":101,"text":"i) k"},"encoding":{}},
{"data":{"name":"one"},"mark":{"type":"text","style":"s","x":129,"y":104,"text":"hyd"},"encoding":{}},
{"data":{"name":"one"},"mark":{"type":"text","style":"t","x":163,"y":101,"text":"Low (70 µM/s)"},"encoding":{}},
{"data":{"name":"one"},"mark":{"type":"text","style":"t","x":404,"y":101,"text":"iii) V"},"encoding":{}},
{"data":{"name":"one"},"mark":{"type":"text","style":"s","x":461,"y":104,"text":"ANT"},"encoding":{}},
{"data":{"name":"one"},"mark":{"type":"text","style":"t","x":503,"y":101,"text":"Low (35 mM/s)"},"encoding":{}},
{"data":{"name":"one"},"mark":{"type":"text","style":"t","x":740,"y":100,"text":"v) V"},"encoding":{}},
{"data":{"name":"one"},"mark":{"type":"text","style":"s","x":789,"y":104,"text":"F1FO"},"encoding":{}},
{"data":{"name":"one"},"mark":{"type":"text","style":"t","x":843,"y":100,"text":"Low (25 mM/s)"},"encoding":{}},
{"data":{"name":"one"},"mark":{"type":"text","style":"t","x":72,"y":434,"text":"ii) k"},"encoding":{}},
{"data":{"name":"one"},"mark":{"type":"text","style":"s","x":118,"y":437,"text":"hyd"},"encoding":{}},
{"data":{"name":"one"},"mark":{"type":"text","style":"t","x":153,"y":434,"text":"High (90 µM/s)"},"encoding":{}},
{"data":{"name":"one"},"mark":{"type":"text","style":"t","x":421,"y":437,"text":"iv) V"},"encoding":{}},
{"data":{"name":"one"},"mark":{"type":"text","style":"s","x":476,"y":440,"text":"ANT"},"encoding":{}},
{"data":{"name":"one"},"mark":{"type":"text","style":"t","x":519,"y":437,"text":"High (65 mM/s)"},"encoding":{}},
{"data":{"name":"one"},"mark":{"type":"text","style":"t","x":735,"y":441,"text":"vi) V"},"encoding":{}},
{"data":{"name":"one"},"mark":{"type":"text","style":"s","x":786,"y":444,"text":"F1FO"},"encoding":{}},
{"data":{"name":"one"},"mark":{"type":"text","style":"t","x":841,"y":441,"text":"High (45 mM/s)"},"encoding":{}},
{"data":{"name":"one"},"mark":{"type":"text","style":"t","x":76,"y":885,"text":"i) k"},"encoding":{}},
{"data":{"name":"one"},"mark":{"type":"text","style":"s","x":115,"y":888,"text":"hyd"},"encoding":{}},
{"data":{"name":"one"},"mark":{"type":"text","style":"t","x":154,"y":885,"text":"Low (70 µM/s)"},"encoding":{}},
{"data":{"name":"one"},"mark":{"type":"text","style":"t","x":398,"y":885,"text":"iii) V"},"encoding":{}},
{"data":{"name":"one"},"mark":{"type":"text","style":"s","x":452,"y":888,"text":"ANT"},"encoding":{}},
{"data":{"name":"one"},"mark":{"type":"text","style":"t","x":494,"y":885,"text":"Low (35 mM/s)"},"encoding":{}},
{"data":{"name":"one"},"mark":{"type":"text","style":"t","x":728,"y":885,"text":"v) V"},"encoding":{}},
{"data":{"name":"one"},"mark":{"type":"text","style":"s","x":776,"y":888,"text":"F1FO"},"encoding":{}},
{"data":{"name":"one"},"mark":{"type":"text","style":"t","x":824,"y":885,"text":"Low (25 mM/s)"},"encoding":{}},
{"data":{"name":"one"},"mark":{"type":"text","style":"t","x":75,"y":1222,"text":"ii) k"},"encoding":{}},
{"data":{"name":"one"},"mark":{"type":"text","style":"s","x":121,"y":1225,"text":"hyd"},"encoding":{}},
{"data":{"name":"one"},"mark":{"type":"text","style":"t","x":157,"y":1222,"text":"High (90 µM/s)"},"encoding":{}},
{"data":{"name":"one"},"mark":{"type":"text","style":"t","x":393,"y":1222,"text":"iv) V"},"encoding":{}},
{"data":{"name":"one"},"mark":{"type":"text","style":"s","x":447,"y":1225,"text":"ANT"},"encoding":{}},
{"data":{"name":"one"},"mark":{"type":"text","style":"t","x":490,"y":1222,"text":"High (65 mM/s)"},"encoding":{}},
{"data":{"name":"one"},"mark":{"type":"text","style":"t","x":730,"y":1222,"text":"vi) V"},"encoding":{}},
{"data":{"name":"one"},"mark":{"type":"text","style":"s","x":783,"y":1225,"text":"F1FO"},"encoding":{}},
{"data":{"name":"one"},"mark":{"type":"text","style":"t","x":830,"y":1222,"text":"High (45 mM/s)"},"encoding":{}},
{"data":{"name":"one"},"mark":{"type":"rule","stroke":"#222222","strokeWidth":3},"encoding":{"x":{"value":40},"x2":{"value":1118},"y":{"value":799}}}
]}
